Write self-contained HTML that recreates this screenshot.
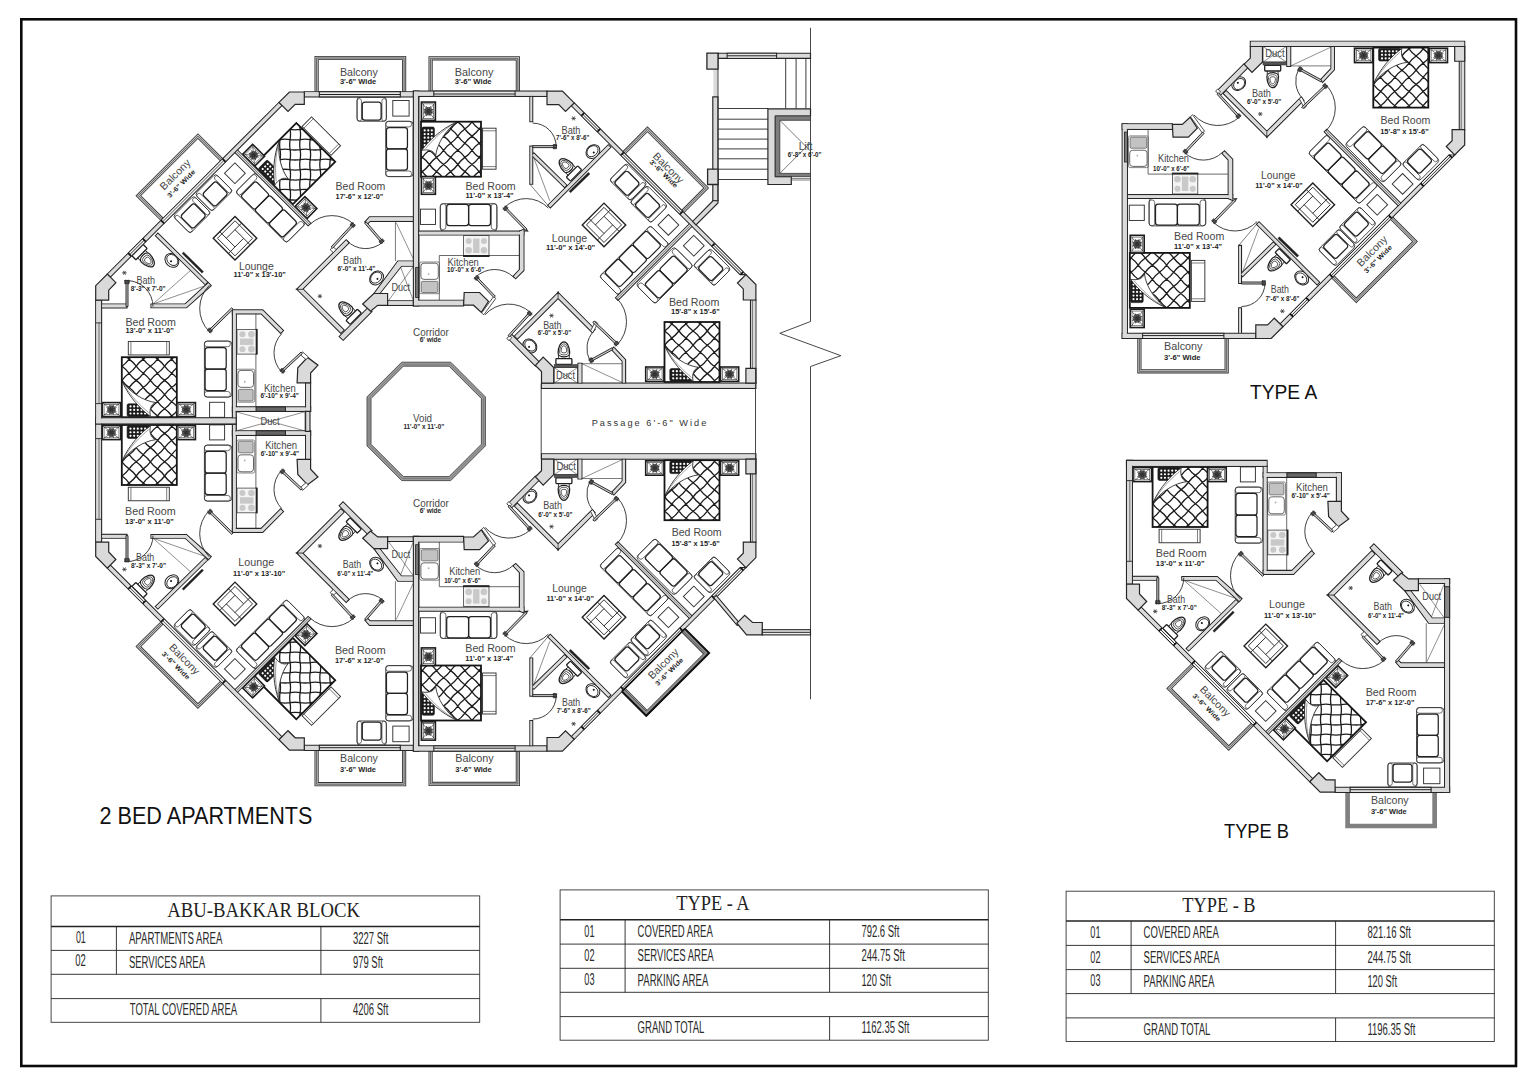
<!DOCTYPE html>
<html><head><meta charset="utf-8"><title>2 Bed Apartments</title>
<style>html,body{margin:0;padding:0;background:#fff}svg{display:block}</style>
</head><body>
<svg width="1536" height="1085" viewBox="0 0 1536 1085">
<rect width="1536" height="1085" fill="#fff"/>
<defs><clipPath id="bedclip"><rect x="0" y="0" width="55" height="60"/></clipPath><g id="bed"><g clip-path="url(#bedclip)"><rect x="0" y="0" width="55" height="60" fill="#fff" stroke="none" stroke-width="0" /><path d="M-14,8.4Q-9.86,5.44 -6.9,1.3M-6.9,1.3Q-3.94,-2.84 0.2,-5.8M0.2,-5.8Q4.34,-8.76 7.3,-12.9M-14,22.6Q-11.04,18.46 -6.9,15.5M-6.9,15.5Q-2.76,12.54 0.2,8.4M0.2,8.4Q3.16,4.26 7.3,1.3M7.3,1.3Q11.44,-1.66 14.4,-5.8M14.4,-5.8Q17.36,-9.94 21.5,-12.9M-14,36.8Q-9.86,33.84 -6.9,29.7M-6.9,29.7Q-3.94,25.56 0.2,22.6M0.2,22.6Q4.34,19.64 7.3,15.5M7.3,15.5Q10.26,11.36 14.4,8.4M14.4,8.4Q18.54,5.44 21.5,1.3M21.5,1.3Q24.46,-2.84 28.6,-5.8M28.6,-5.8Q32.74,-8.76 35.7,-12.9M-14,51Q-11.04,46.86 -6.9,43.9M-6.9,43.9Q-2.76,40.94 0.2,36.8M0.2,36.8Q3.16,32.66 7.3,29.7M7.3,29.7Q11.44,26.74 14.4,22.6M14.4,22.6Q17.36,18.46 21.5,15.5M21.5,15.5Q25.64,12.54 28.6,8.4M28.6,8.4Q31.56,4.26 35.7,1.3M35.7,1.3Q39.84,-1.66 42.8,-5.8M42.8,-5.8Q45.76,-9.94 49.9,-12.9M-14,65.2Q-9.86,62.24 -6.9,58.1M-6.9,58.1Q-3.94,53.96 0.2,51M0.2,51Q4.34,48.04 7.3,43.9M7.3,43.9Q10.26,39.76 14.4,36.8M14.4,36.8Q18.54,33.84 21.5,29.7M21.5,29.7Q24.46,25.56 28.6,22.6M28.6,22.6Q32.74,19.64 35.7,15.5M35.7,15.5Q38.66,11.36 42.8,8.4M42.8,8.4Q46.94,5.44 49.9,1.3M49.9,1.3Q52.86,-2.84 57,-5.8M57,-5.8Q61.14,-8.76 64.1,-12.9M-6.9,72.3Q-2.76,69.34 0.2,65.2M0.2,65.2Q3.16,61.06 7.3,58.1M7.3,58.1Q11.44,55.14 14.4,51M14.4,51Q17.36,46.86 21.5,43.9M21.5,43.9Q25.64,40.94 28.6,36.8M28.6,36.8Q31.56,32.66 35.7,29.7M35.7,29.7Q39.84,26.74 42.8,22.6M42.8,22.6Q45.76,18.46 49.9,15.5M49.9,15.5Q54.04,12.54 57,8.4M57,8.4Q59.96,4.26 64.1,1.3M7.3,72.3Q10.26,68.16 14.4,65.2M14.4,65.2Q18.54,62.24 21.5,58.1M21.5,58.1Q24.46,53.96 28.6,51M28.6,51Q32.74,48.04 35.7,43.9M35.7,43.9Q38.66,39.76 42.8,36.8M42.8,36.8Q46.94,33.84 49.9,29.7M49.9,29.7Q52.86,25.56 57,22.6M57,22.6Q61.14,19.64 64.1,15.5M21.5,72.3Q25.64,69.34 28.6,65.2M28.6,65.2Q31.56,61.06 35.7,58.1M35.7,58.1Q39.84,55.14 42.8,51M42.8,51Q45.76,46.86 49.9,43.9M49.9,43.9Q54.04,40.94 57,36.8M57,36.8Q59.96,32.66 64.1,29.7M35.7,72.3Q38.66,68.16 42.8,65.2M42.8,65.2Q46.94,62.24 49.9,58.1M49.9,58.1Q52.86,53.96 57,51M57,51Q61.14,48.04 64.1,43.9M49.9,72.3Q54.04,69.34 57,65.2M57,65.2Q59.96,61.06 64.1,58.1M-14,65.2Q-9.86,68.16 -6.9,72.3M-14,51Q-11.04,55.14 -6.9,58.1M-6.9,58.1Q-2.76,61.06 0.2,65.2M0.2,65.2Q3.16,69.34 7.3,72.3M-14,36.8Q-9.86,39.76 -6.9,43.9M-6.9,43.9Q-3.94,48.04 0.2,51M0.2,51Q4.34,53.96 7.3,58.1M7.3,58.1Q10.26,62.24 14.4,65.2M14.4,65.2Q18.54,68.16 21.5,72.3M-14,22.6Q-11.04,26.74 -6.9,29.7M-6.9,29.7Q-2.76,32.66 0.2,36.8M0.2,36.8Q3.16,40.94 7.3,43.9M7.3,43.9Q11.44,46.86 14.4,51M14.4,51Q17.36,55.14 21.5,58.1M21.5,58.1Q25.64,61.06 28.6,65.2M28.6,65.2Q31.56,69.34 35.7,72.3M-14,8.4Q-9.86,11.36 -6.9,15.5M-6.9,15.5Q-3.94,19.64 0.2,22.6M0.2,22.6Q4.34,25.56 7.3,29.7M7.3,29.7Q10.26,33.84 14.4,36.8M14.4,36.8Q18.54,39.76 21.5,43.9M21.5,43.9Q24.46,48.04 28.6,51M28.6,51Q32.74,53.96 35.7,58.1M35.7,58.1Q38.66,62.24 42.8,65.2M42.8,65.2Q46.94,68.16 49.9,72.3M-14,-5.8Q-11.04,-1.66 -6.9,1.3M-6.9,1.3Q-2.76,4.26 0.2,8.4M0.2,8.4Q3.16,12.54 7.3,15.5M7.3,15.5Q11.44,18.46 14.4,22.6M14.4,22.6Q17.36,26.74 21.5,29.7M21.5,29.7Q25.64,32.66 28.6,36.8M28.6,36.8Q31.56,40.94 35.7,43.9M35.7,43.9Q39.84,46.86 42.8,51M42.8,51Q45.76,55.14 49.9,58.1M49.9,58.1Q54.04,61.06 57,65.2M57,65.2Q59.96,69.34 64.1,72.3M-6.9,-12.9Q-3.94,-8.76 0.2,-5.8M0.2,-5.8Q4.34,-2.84 7.3,1.3M7.3,1.3Q10.26,5.44 14.4,8.4M14.4,8.4Q18.54,11.36 21.5,15.5M21.5,15.5Q24.46,19.64 28.6,22.6M28.6,22.6Q32.74,25.56 35.7,29.7M35.7,29.7Q38.66,33.84 42.8,36.8M42.8,36.8Q46.94,39.76 49.9,43.9M49.9,43.9Q52.86,48.04 57,51M57,51Q61.14,53.96 64.1,58.1M7.3,-12.9Q11.44,-9.94 14.4,-5.8M14.4,-5.8Q17.36,-1.66 21.5,1.3M21.5,1.3Q25.64,4.26 28.6,8.4M28.6,8.4Q31.56,12.54 35.7,15.5M35.7,15.5Q39.84,18.46 42.8,22.6M42.8,22.6Q45.76,26.74 49.9,29.7M49.9,29.7Q54.04,32.66 57,36.8M57,36.8Q59.96,40.94 64.1,43.9M21.5,-12.9Q24.46,-8.76 28.6,-5.8M28.6,-5.8Q32.74,-2.84 35.7,1.3M35.7,1.3Q38.66,5.44 42.8,8.4M42.8,8.4Q46.94,11.36 49.9,15.5M49.9,15.5Q52.86,19.64 57,22.6M57,22.6Q61.14,25.56 64.1,29.7M35.7,-12.9Q39.84,-9.94 42.8,-5.8M42.8,-5.8Q45.76,-1.66 49.9,1.3M49.9,1.3Q54.04,4.26 57,8.4M57,8.4Q59.96,12.54 64.1,15.5M49.9,-12.9Q52.86,-8.76 57,-5.8M57,-5.8Q61.14,-2.84 64.1,1.3" fill="none" stroke="#1c1c1c" stroke-width="1.3"/><path d="M0,0 L28.6,0 C27.5,7 28.5,12.5 33.9,14.7 C22,16 8,25 0,36 Z" fill="#fff" stroke="none"/><rect x="5.3" y="0.8" width="22.3" height="12.6" rx="1.6" fill="#1d1d1d" stroke="#111" stroke-width="0.6" /><circle cx="8.7" cy="3.7" r="1.1" fill="#fff"/><circle cx="8.7" cy="7.25" r="1.1" fill="#fff"/><circle cx="8.7" cy="10.8" r="1.1" fill="#fff"/><circle cx="12.35" cy="3.7" r="1.1" fill="#fff"/><circle cx="12.35" cy="7.25" r="1.1" fill="#fff"/><circle cx="12.35" cy="10.8" r="1.1" fill="#fff"/><circle cx="16" cy="3.7" r="1.1" fill="#fff"/><circle cx="16" cy="7.25" r="1.1" fill="#fff"/><circle cx="16" cy="10.8" r="1.1" fill="#fff"/><circle cx="19.65" cy="3.7" r="1.1" fill="#fff"/><circle cx="19.65" cy="7.25" r="1.1" fill="#fff"/><circle cx="19.65" cy="10.8" r="1.1" fill="#fff"/><circle cx="23.3" cy="3.7" r="1.1" fill="#fff"/><circle cx="23.3" cy="7.25" r="1.1" fill="#fff"/><circle cx="23.3" cy="10.8" r="1.1" fill="#fff"/><path d="M28.6,0.8 C27.5,7 28.5,12.5 33.9,14.7 C22,16 8,25 0.4,35.8 C7,20 20,7 28.6,0.8 Z" fill="#fff" stroke="#222" stroke-width="0.85"/><path d="M1.2,34.5 C8,22 18,12 27,4.5" fill="none" stroke="#444" stroke-width="0.5"/></g><rect x="0" y="0" width="55" height="60" fill="none" stroke="#151515" stroke-width="1.8" /></g><g id="tB"><polyline points="1347.4,792.5 1347.4,826.2 1434.9,826.2 1434.9,792.5" fill="none" stroke="#333" stroke-width="4.2" /><polyline points="1347.4,792.5 1347.4,826.2 1434.9,826.2 1434.9,792.5" fill="none" stroke="#c4c4c4" stroke-width="2.5" /><polyline points="1347.4,792.5 1347.4,826.2 1434.9,826.2 1434.9,792.5" fill="none" stroke="#4a4a4a" stroke-width="0.8" /><use href="#bed" transform="translate(1152.6 467) rotate(0)"/><g transform="translate(1142.3 474.6) rotate(0)"><rect x="-9.25" y="-7" width="18.5" height="14" fill="#fff" stroke="#1c1c1c" stroke-width="1.6" /><rect x="-7.45" y="-5.2" width="14.9" height="10.4" fill="none" stroke="#333" stroke-width="0.6" /><line x1="-9.25" y1="-7" x2="9.25" y2="7" stroke="#262626" stroke-width="0.6"/><line x1="-9.25" y1="7" x2="9.25" y2="-7" stroke="#262626" stroke-width="0.6"/><circle r="4.3" fill="#5a5a5a"/><circle r="2.2" fill="#333"/><line x1="0" y1="0" x2="4.99" y2="2.05" stroke="#333" stroke-width="0.8"/><line x1="0" y1="0" x2="2.08" y2="4.98" stroke="#333" stroke-width="0.8"/><line x1="0" y1="0" x2="-2.05" y2="4.99" stroke="#333" stroke-width="0.8"/><line x1="0" y1="0" x2="-4.98" y2="2.08" stroke="#333" stroke-width="0.8"/><line x1="0" y1="0" x2="-4.99" y2="-2.05" stroke="#333" stroke-width="0.8"/><line x1="0" y1="0" x2="-2.08" y2="-4.98" stroke="#333" stroke-width="0.8"/><line x1="0" y1="0" x2="2.05" y2="-4.99" stroke="#333" stroke-width="0.8"/><line x1="0" y1="0" x2="4.98" y2="-2.08" stroke="#333" stroke-width="0.8"/></g><g transform="translate(1217 474.6) rotate(0)"><rect x="-9.25" y="-7" width="18.5" height="14" fill="#fff" stroke="#1c1c1c" stroke-width="1.6" /><rect x="-7.45" y="-5.2" width="14.9" height="10.4" fill="none" stroke="#333" stroke-width="0.6" /><line x1="-9.25" y1="-7" x2="9.25" y2="7" stroke="#262626" stroke-width="0.6"/><line x1="-9.25" y1="7" x2="9.25" y2="-7" stroke="#262626" stroke-width="0.6"/><circle r="4.3" fill="#5a5a5a"/><circle r="2.2" fill="#333"/><line x1="0" y1="0" x2="4.99" y2="2.05" stroke="#333" stroke-width="0.8"/><line x1="0" y1="0" x2="2.08" y2="4.98" stroke="#333" stroke-width="0.8"/><line x1="0" y1="0" x2="-2.05" y2="4.99" stroke="#333" stroke-width="0.8"/><line x1="0" y1="0" x2="-4.98" y2="2.08" stroke="#333" stroke-width="0.8"/><line x1="0" y1="0" x2="-4.99" y2="-2.05" stroke="#333" stroke-width="0.8"/><line x1="0" y1="0" x2="-2.08" y2="-4.98" stroke="#333" stroke-width="0.8"/><line x1="0" y1="0" x2="2.05" y2="-4.99" stroke="#333" stroke-width="0.8"/><line x1="0" y1="0" x2="4.98" y2="-2.08" stroke="#333" stroke-width="0.8"/></g><g transform="translate(1179.6 536) rotate(0)"><rect x="-20.5" y="-6.75" width="41" height="13.5" fill="none" stroke="#333" stroke-width="0.95" /><line x1="-17.9" y1="-6.75" x2="-17.9" y2="6.75" stroke="#444" stroke-width="0.7"/><line x1="17.9" y1="-6.75" x2="17.9" y2="6.75" stroke="#444" stroke-width="0.7"/></g><g transform="translate(1247.9 474.4) rotate(0)"><rect x="-7.5" y="-7.5" width="15" height="15" fill="none" stroke="#333" stroke-width="0.95" /></g><g transform="translate(1248.9 515.1) rotate(90)"><rect x="-28" y="-13.7" width="56" height="27.4" rx="3" fill="none" stroke="#333" stroke-width="0.85" /><rect x="-28" y="-12.2" width="5.6" height="25.9" rx="2.5" fill="none" stroke="#333" stroke-width="0.7" /><rect x="22.4" y="-12.2" width="5.6" height="25.9" rx="2.5" fill="none" stroke="#333" stroke-width="0.7" /><rect x="-21.6" y="-8.1" width="21.6" height="21.1" rx="2.6" fill="none" stroke="#222" stroke-width="1.25" /><rect x="0" y="-8.1" width="21.6" height="21.1" rx="2.6" fill="none" stroke="#222" stroke-width="1.25" /></g><g transform="translate(1265.8 645.9) rotate(45)"><rect x="-15.4" y="-15.4" width="30.8" height="30.8" fill="none" stroke="#222" stroke-width="1.4" /><rect x="-12.4" y="-12.4" width="24.8" height="24.8" fill="none" stroke="#2a2a2a" stroke-width="0.9" /><line x1="-15.4" y1="-6.1" x2="6.1" y2="-6.1" stroke="#262626" stroke-width="0.9"/><line x1="6.1" y1="-15.4" x2="6.1" y2="6.1" stroke="#262626" stroke-width="0.9"/><line x1="-6.1" y1="6.1" x2="15.4" y2="6.1" stroke="#262626" stroke-width="0.9"/><line x1="-6.1" y1="-6.1" x2="-6.1" y2="15.4" stroke="#262626" stroke-width="0.9"/></g><g transform="translate(1222.7 669.6) rotate(225)"><rect x="-14.65" y="-12.05" width="29.3" height="24.1" rx="3" fill="none" stroke="#333" stroke-width="0.85" /><rect x="-14.65" y="-10.55" width="4.4" height="22.6" rx="2.2" fill="none" stroke="#333" stroke-width="0.7" /><rect x="10.25" y="-10.55" width="4.4" height="22.6" rx="2.2" fill="none" stroke="#333" stroke-width="0.7" /><rect x="-9.45" y="-7.05" width="18.9" height="17.9" rx="2.6" fill="none" stroke="#222" stroke-width="1.3" /></g><g transform="translate(1244.6 691.6) rotate(225)"><rect x="-14.65" y="-12.05" width="29.3" height="24.1" rx="3" fill="none" stroke="#333" stroke-width="0.85" /><rect x="-14.65" y="-10.55" width="4.4" height="22.6" rx="2.2" fill="none" stroke="#333" stroke-width="0.7" /><rect x="10.25" y="-10.55" width="4.4" height="22.6" rx="2.2" fill="none" stroke="#333" stroke-width="0.7" /><rect x="-9.45" y="-7.05" width="18.9" height="17.9" rx="2.6" fill="none" stroke="#222" stroke-width="1.3" /></g><g transform="translate(1265.7 711) rotate(45)"><rect x="-7.35" y="-7.35" width="14.7" height="14.7" fill="none" stroke="#333" stroke-width="0.95" /></g><g transform="translate(1301.5 676.5) rotate(135)"><rect x="-36" y="-13.8" width="72" height="27.6" rx="3" fill="none" stroke="#333" stroke-width="0.85" /><rect x="-36" y="-12.3" width="5.6" height="26.1" rx="2.5" fill="none" stroke="#333" stroke-width="0.7" /><rect x="30.4" y="-12.3" width="5.6" height="26.1" rx="2.5" fill="none" stroke="#333" stroke-width="0.7" /><rect x="-29.6" y="-8.2" width="19.73" height="21.3" rx="2.6" fill="none" stroke="#222" stroke-width="1.25" /><rect x="-9.87" y="-8.2" width="19.73" height="21.3" rx="2.6" fill="none" stroke="#222" stroke-width="1.25" /><rect x="9.87" y="-8.2" width="19.73" height="21.3" rx="2.6" fill="none" stroke="#222" stroke-width="1.25" /></g><use href="#bed" transform="translate(1284.7 718.8) rotate(-45)"/><g transform="translate(1336.75 676.65) rotate(-45)"><rect x="-8.5" y="-7" width="17" height="14" fill="#fff" stroke="#1c1c1c" stroke-width="1.6" /><rect x="-6.7" y="-5.2" width="13.4" height="10.4" fill="none" stroke="#333" stroke-width="0.6" /><line x1="-8.5" y1="-7" x2="8.5" y2="7" stroke="#262626" stroke-width="0.6"/><line x1="-8.5" y1="7" x2="8.5" y2="-7" stroke="#262626" stroke-width="0.6"/><circle r="4.3" fill="#5a5a5a"/><circle r="2.2" fill="#333"/><line x1="0" y1="0" x2="4.99" y2="2.05" stroke="#333" stroke-width="0.8"/><line x1="0" y1="0" x2="2.08" y2="4.98" stroke="#333" stroke-width="0.8"/><line x1="0" y1="0" x2="-2.05" y2="4.99" stroke="#333" stroke-width="0.8"/><line x1="0" y1="0" x2="-4.98" y2="2.08" stroke="#333" stroke-width="0.8"/><line x1="0" y1="0" x2="-4.99" y2="-2.05" stroke="#333" stroke-width="0.8"/><line x1="0" y1="0" x2="-2.08" y2="-4.98" stroke="#333" stroke-width="0.8"/><line x1="0" y1="0" x2="2.05" y2="-4.99" stroke="#333" stroke-width="0.8"/><line x1="0" y1="0" x2="4.98" y2="-2.08" stroke="#333" stroke-width="0.8"/></g><g transform="translate(1284.45 728.95) rotate(-45)"><rect x="-8.5" y="-7" width="17" height="14" fill="#fff" stroke="#1c1c1c" stroke-width="1.6" /><rect x="-6.7" y="-5.2" width="13.4" height="10.4" fill="none" stroke="#333" stroke-width="0.6" /><line x1="-8.5" y1="-7" x2="8.5" y2="7" stroke="#262626" stroke-width="0.6"/><line x1="-8.5" y1="7" x2="8.5" y2="-7" stroke="#262626" stroke-width="0.6"/><circle r="4.3" fill="#5a5a5a"/><circle r="2.2" fill="#333"/><line x1="0" y1="0" x2="4.99" y2="2.05" stroke="#333" stroke-width="0.8"/><line x1="0" y1="0" x2="2.08" y2="4.98" stroke="#333" stroke-width="0.8"/><line x1="0" y1="0" x2="-2.05" y2="4.99" stroke="#333" stroke-width="0.8"/><line x1="0" y1="0" x2="-4.98" y2="2.08" stroke="#333" stroke-width="0.8"/><line x1="0" y1="0" x2="-4.99" y2="-2.05" stroke="#333" stroke-width="0.8"/><line x1="0" y1="0" x2="-2.08" y2="-4.98" stroke="#333" stroke-width="0.8"/><line x1="0" y1="0" x2="2.05" y2="-4.99" stroke="#333" stroke-width="0.8"/><line x1="0" y1="0" x2="4.98" y2="-2.08" stroke="#333" stroke-width="0.8"/></g><g transform="translate(1352.1 748.1) rotate(-45)"><rect x="-20.5" y="-6.75" width="41" height="13.5" fill="none" stroke="#333" stroke-width="0.95" /><line x1="-17.9" y1="-6.75" x2="-17.9" y2="6.75" stroke="#444" stroke-width="0.7"/><line x1="17.9" y1="-6.75" x2="17.9" y2="6.75" stroke="#444" stroke-width="0.7"/></g><g transform="translate(1430.2 735.25) rotate(90)"><rect x="-27.65" y="-13.65" width="55.3" height="27.3" rx="3" fill="none" stroke="#333" stroke-width="0.85" /><rect x="-27.65" y="-12.15" width="5.6" height="25.8" rx="2.5" fill="none" stroke="#333" stroke-width="0.7" /><rect x="22.05" y="-12.15" width="5.6" height="25.8" rx="2.5" fill="none" stroke="#333" stroke-width="0.7" /><rect x="-21.25" y="-8.05" width="21.25" height="21" rx="2.6" fill="none" stroke="#222" stroke-width="1.25" /><rect x="0" y="-8.05" width="21.25" height="21" rx="2.6" fill="none" stroke="#222" stroke-width="1.25" /></g><g transform="translate(1402.5 775) rotate(180)"><rect x="-14.65" y="-12.05" width="29.3" height="24.1" rx="3" fill="none" stroke="#333" stroke-width="0.85" /><rect x="-14.65" y="-10.55" width="4.4" height="22.6" rx="2.2" fill="none" stroke="#333" stroke-width="0.7" /><rect x="10.25" y="-10.55" width="4.4" height="22.6" rx="2.2" fill="none" stroke="#333" stroke-width="0.7" /><rect x="-9.45" y="-7.05" width="18.9" height="17.9" rx="2.6" fill="none" stroke="#222" stroke-width="1.3" /></g><g transform="translate(1431.75 775.9) rotate(0)"><rect x="-8.15" y="-7.8" width="16.3" height="15.6" fill="none" stroke="#333" stroke-width="0.95" /></g><line x1="1286.7" y1="477.3" x2="1286.7" y2="570.4" stroke="#444" stroke-width="0.8"/><rect x="1267.6" y="482" width="17.9" height="33" rx="1.5" fill="none" stroke="#555" stroke-width="0.7" /><rect x="1269.2" y="483.2" width="14.7" height="11.63" rx="1.2" fill="#c2c2c2" stroke="#555" stroke-width="0.7" /><rect x="1268.8" y="496.83" width="15.5" height="16.97" rx="3" fill="#fff" stroke="#555" stroke-width="0.9" /><circle cx="1275.55" cy="502.43" r="0.9" fill="#aaa"/><rect x="1267.8" y="530.1" width="19.5" height="24.7" fill="#f4f4f4" stroke="#444" stroke-width="0.8" /><circle cx="1273.26" cy="535.04" r="3" fill="#c9c9c9"/><circle cx="1282.23" cy="535.04" r="3.3" fill="#c9c9c9"/><circle cx="1273.26" cy="549.86" r="3" fill="#c9c9c9"/><circle cx="1282.23" cy="549.86" r="3.3" fill="#c9c9c9"/><rect x="1270.8" y="539.25" width="13.5" height="6.4" fill="#c9c9c9" stroke="none" stroke-width="0" /><rect x="1286.5" y="529.6" width="2" height="25.7" fill="#222" stroke="none" stroke-width="0" /><g transform="translate(1168.3 634.1) rotate(225)"><rect x="-8" y="0" width="16" height="5.7" rx="0.8" fill="#fff" stroke="#1e1e1e" stroke-width="1.3" /><line x1="-5.2" y1="5.7" x2="-5.6" y2="9.5" stroke="#222" stroke-width="0.9"/><line x1="5.2" y1="5.7" x2="5.6" y2="9.5" stroke="#222" stroke-width="0.9"/><path d="M-5.8,11.2 A5.8,3.8 0 0 1 5.8,11.2 A5.8,11.2 0 0 1 -5.8,11.2 Z" fill="#fff" stroke="#1e1e1e" stroke-width="1.25"/><path d="M-4.29,12.2 A4.29,2.81 0 0 1 4.29,12.2 A4.29,8.29 0 0 1 -4.29,12.2 Z" fill="none" stroke="#333" stroke-width="0.8"/><path d="M-2.78,13.2 A2.78,1.82 0 0 1 2.78,13.2 A2.78,5.38 0 0 1 -2.78,13.2 Z" fill="none" stroke="#333" stroke-width="0.8"/></g><g transform="translate(1202.7 623.8) rotate(-45)"><ellipse cx="0" cy="0" rx="7.6" ry="6.2" fill="#fff" stroke="#222" stroke-width="1.0"/><ellipse cx="0" cy="0.6" rx="6.2" ry="4.8" fill="none" stroke="#222" stroke-width="0.9"/><circle cx="0" cy="-1.2" r="1" fill="#111"/></g><g transform="translate(1155.2 611.4) rotate(0)"><line x1="-2.2" y1="0" x2="2.2" y2="0" stroke="#333" stroke-width="0.5"/><line x1="-1.1" y1="-1.91" x2="1.1" y2="1.91" stroke="#333" stroke-width="0.5"/><line x1="1.1" y1="-1.91" x2="-1.1" y2="1.91" stroke="#333" stroke-width="0.5"/><line x1="2.2" y1="0" x2="-2.2" y2="0" stroke="#333" stroke-width="0.5"/><line x1="1.1" y1="1.91" x2="-1.1" y2="-1.91" stroke="#333" stroke-width="0.5"/><line x1="-1.1" y1="1.91" x2="1.1" y2="-1.91" stroke="#333" stroke-width="0.5"/></g><line x1="1183.8" y1="580.2" x2="1237.8" y2="599.1" stroke="#444" stroke-width="0.6"/><line x1="1183.8" y1="580.2" x2="1221.6" y2="614" stroke="#444" stroke-width="0.6"/><g transform="translate(1386.5 565.4) rotate(45)"><rect x="-8" y="0" width="16" height="5.7" rx="0.8" fill="#fff" stroke="#1e1e1e" stroke-width="1.3" /><line x1="-5.2" y1="5.7" x2="-5.6" y2="9.5" stroke="#222" stroke-width="0.9"/><line x1="5.2" y1="5.7" x2="5.6" y2="9.5" stroke="#222" stroke-width="0.9"/><path d="M-5.8,11.2 A5.8,3.8 0 0 1 5.8,11.2 A5.8,11.2 0 0 1 -5.8,11.2 Z" fill="#fff" stroke="#1e1e1e" stroke-width="1.25"/><path d="M-4.29,12.2 A4.29,2.81 0 0 1 4.29,12.2 A4.29,8.29 0 0 1 -4.29,12.2 Z" fill="none" stroke="#333" stroke-width="0.8"/><path d="M-2.78,13.2 A2.78,1.82 0 0 1 2.78,13.2 A2.78,5.38 0 0 1 -2.78,13.2 Z" fill="none" stroke="#333" stroke-width="0.8"/></g><g transform="translate(1407.4 606.2) rotate(45)"><ellipse cx="0" cy="0" rx="7.6" ry="6.2" fill="#fff" stroke="#222" stroke-width="1.0"/><ellipse cx="0" cy="0.6" rx="6.2" ry="4.8" fill="none" stroke="#222" stroke-width="0.9"/><circle cx="0" cy="-1.2" r="1" fill="#111"/></g><g transform="translate(1350.7 588) rotate(0)"><line x1="-2.2" y1="0" x2="2.2" y2="0" stroke="#333" stroke-width="0.5"/><line x1="-1.1" y1="-1.91" x2="1.1" y2="1.91" stroke="#333" stroke-width="0.5"/><line x1="1.1" y1="-1.91" x2="-1.1" y2="1.91" stroke="#333" stroke-width="0.5"/><line x1="2.2" y1="0" x2="-2.2" y2="0" stroke="#333" stroke-width="0.5"/><line x1="1.1" y1="1.91" x2="-1.1" y2="-1.91" stroke="#333" stroke-width="0.5"/><line x1="-1.1" y1="1.91" x2="1.1" y2="-1.91" stroke="#333" stroke-width="0.5"/></g><line x1="1419.7" y1="584.1" x2="1443.8" y2="617.3" stroke="#444" stroke-width="0.6"/><line x1="1443.8" y1="584.7" x2="1430.8" y2="618.6" stroke="#444" stroke-width="0.6"/><line x1="1426.25" y1="623.2" x2="1426.25" y2="662.9" stroke="#444" stroke-width="0.7"/><line x1="1444.2" y1="625.1" x2="1427" y2="661.5" stroke="#444" stroke-width="0.6"/><polyline points="1192.88,664.88 1169.2,688.57 1228.73,748.1 1252.42,724.42" fill="none" stroke="#333" stroke-width="4.2" /><polyline points="1192.88,664.88 1169.2,688.57 1228.73,748.1 1252.42,724.42" fill="none" stroke="#c4c4c4" stroke-width="2.5" /><polyline points="1192.88,664.88 1169.2,688.57 1228.73,748.1 1252.42,724.42" fill="none" stroke="#4a4a4a" stroke-width="0.8" /><polygon points="1138.1,610.1 1309.75,781.75 1312.75,778.75 1141.1,607.1" fill="#dadada" stroke="#262626" stroke-width="1.15" /><polygon points="1126.5,460.4 1267.1,460.4 1267.1,466.3 1126.5,466.3" fill="#dadada" stroke="#262626" stroke-width="1.15" /><polygon points="1126.5,460.4 1132.4,460.4 1132.4,584.1 1126.5,584.1" fill="#dadada" stroke="#262626" stroke-width="1.15" /><polygon points="1335.1,787.3 1449.6,787.3 1449.6,792.5 1335.1,792.5" fill="#dadada" stroke="#262626" stroke-width="1.15" /><polygon points="1444.6,578.9 1449.6,578.9 1449.6,792.2 1444.6,792.2" fill="#dadada" stroke="#262626" stroke-width="1.15" /><polygon points="1418.4,578.9 1449.6,578.9 1449.6,583.5 1418.4,583.5" fill="#dadada" stroke="#262626" stroke-width="1.15" /><polygon points="1373.9,543.9 1402.8,572.8 1398.9,576.7 1370,547.8" fill="#dadada" stroke="#262626" stroke-width="1.15" /><polygon points="1327.5,595 1371.7,550.8 1375,554.1 1334.1,595" fill="#dadada" stroke="#262626" stroke-width="1.15" /><polygon points="1327.5,595 1377,644.5 1380,641.5 1333.6,595.1" fill="#dadada" stroke="#262626" stroke-width="1.15" /><polygon points="1404.8,590.7 1410.7,590.7 1432.3,618 1444.5,618 1444.5,623.2 1428.6,623.2" fill="#dadada" stroke="#262626" stroke-width="1.15" /><polygon points="1395.6,662.2 1398.3,660.3 1401,662.9 1444.5,662.9 1444.5,667.4 1400.3,667.4" fill="#dadada" stroke="#262626" stroke-width="1.15" /><polygon points="1263.2,466.3 1267.1,466.3 1267.1,573.7 1263.2,573.7" fill="#dadada" stroke="#262626" stroke-width="1.15" /><polygon points="1263.2,472.8 1341.4,472.8 1341.4,477.3 1263.2,477.3" fill="#dadada" stroke="#262626" stroke-width="1.15" /><polygon points="1336.4,472.8 1341.4,472.8 1341.4,501.4 1336.4,501.4" fill="#dadada" stroke="#262626" stroke-width="1.15" /><polygon points="1263.2,570.4 1291.9,570.4 1311.5,550.8 1314.3,553.6 1293.5,574.3 1263.2,574.3" fill="#dadada" stroke="#262626" stroke-width="1.15" /><polygon points="1132.4,576.3 1157.8,576.3 1157.8,580.2 1132.4,580.2" fill="#dadada" stroke="#262626" stroke-width="1.15" /><polygon points="1181.8,576.5 1217.3,576.5 1242,598.6 1239.2,601.6 1215.9,580.2 1181.8,580.2" fill="#dadada" stroke="#262626" stroke-width="1.15" /><polygon points="1235.94,599.52 1186.14,648.52 1188.66,651.08 1238.46,602.08" fill="#dadada" stroke="#262626" stroke-width="1.1" /><polygon points="1339.03,658.43 1265.73,731.73 1268.27,734.27 1341.57,660.97" fill="#dadada" stroke="#262626" stroke-width="1.1" /><polygon points="1138.88,610.1 1309.75,780.97 1311.97,778.75 1141.1,607.88" fill="#dadada"/><polygon points="1127.05,460.95 1266.55,460.95 1266.55,465.75 1127.05,465.75" fill="#dadada"/><polygon points="1127.05,460.95 1131.85,460.95 1131.85,583.55 1127.05,583.55" fill="#dadada"/><polygon points="1335.65,787.85 1449.05,787.85 1449.05,791.95 1335.65,791.95" fill="#dadada"/><polygon points="1445.15,579.45 1449.05,579.45 1449.05,791.65 1445.15,791.65" fill="#dadada"/><polygon points="1418.95,579.45 1449.05,579.45 1449.05,582.95 1418.95,582.95" fill="#dadada"/><polygon points="1373.9,544.68 1402.02,572.8 1398.9,575.92 1370.78,547.8" fill="#dadada"/><polygon points="1328.83,594.45 1371.7,551.58 1374.22,554.1 1333.87,594.45" fill="#dadada"/><polygon points="1328.85,595.57 1377,643.72 1379.22,641.5 1333.37,595.65" fill="#dadada"/><polygon points="1405.88,591.25 1410.43,591.25 1432.03,618.55 1443.95,618.55 1443.95,622.65 1428.88,622.65" fill="#dadada"/><polygon points="1396.42,662.29 1398.25,661.01 1400.78,663.45 1443.95,663.45 1443.95,666.85 1400.54,666.85" fill="#dadada"/><polygon points="1263.75,466.85 1266.55,466.85 1266.55,573.15 1263.75,573.15" fill="#dadada"/><polygon points="1263.75,473.35 1340.85,473.35 1340.85,476.75 1263.75,476.75" fill="#dadada"/><polygon points="1336.95,473.35 1340.85,473.35 1340.85,500.85 1336.95,500.85" fill="#dadada"/><polygon points="1263.75,570.95 1292.13,570.95 1311.5,551.58 1313.52,553.6 1293.27,573.75 1263.75,573.75" fill="#dadada"/><polygon points="1132.95,576.85 1157.25,576.85 1157.25,579.65 1132.95,579.65" fill="#dadada"/><polygon points="1182.35,577.05 1217.09,577.05 1241.21,598.64 1239.17,600.83 1216.11,579.65 1182.35,579.65" fill="#dadada"/><polygon points="1235.93,600.29 1186.92,648.52 1188.67,650.31 1237.68,602.08" fill="#dadada"/><polygon points="1339.03,659.21 1266.51,731.73 1268.27,733.49 1340.79,660.97" fill="#dadada"/><polygon points="1191.9,663.9 1253.4,725.4 1256.4,722.4 1194.9,660.9" fill="#f2f2f2" stroke="#262626" stroke-width="0.9" /><line x1="1193.4" y1="662.4" x2="1254.9" y2="723.9" stroke="#333" stroke-width="0.8"/><polygon points="1159,631 1173.5,645.5 1176.5,642.5 1162,628" fill="#f2f2f2" stroke="#262626" stroke-width="1" /><line x1="1160.5" y1="629.5" x2="1175" y2="644" stroke="#222" stroke-width="0.9"/><line x1="1191.9" y1="663.9" x2="1194.9" y2="660.9" stroke="#111" stroke-width="1.7"/><line x1="1253.4" y1="725.4" x2="1256.4" y2="722.4" stroke="#111" stroke-width="1.7"/><line x1="1159" y1="631" x2="1162" y2="628" stroke="#111" stroke-width="1.7"/><line x1="1173.5" y1="645.5" x2="1176.5" y2="642.5" stroke="#111" stroke-width="1.7"/><polygon points="1126.5,584.1 1139.5,584.1 1139.5,594 1146.7,601.5 1138.1,610.1 1126.5,598.5" fill="#dadada" stroke="#262626" stroke-width="1.2" /><polygon points="1309.75,781.75 1318.8,772.7 1326,779.8 1335.1,779.8 1335.1,792.2 1320.2,792.2" fill="#dadada" stroke="#262626" stroke-width="1.2" /><line x1="1129.8" y1="480.6" x2="1129.8" y2="561.3" stroke="#444" stroke-width="0.7"/><line x1="1126.5" y1="480.6" x2="1132.4" y2="480.6" stroke="#222" stroke-width="0.9"/><line x1="1126.5" y1="561.3" x2="1132.4" y2="561.3" stroke="#222" stroke-width="0.9"/><rect x="1350.1" y="787.3" width="81" height="5.2" fill="#e8e8e8" stroke="#222" stroke-width="1.1" /><line x1="1350.1" y1="789.7" x2="1431.1" y2="789.7" stroke="#222" stroke-width="1"/><rect x="1444.6" y="586.7" width="5" height="30.6" fill="#8a8a8a" stroke="#222" stroke-width="1" /><polygon points="1393.5,580.2 1401.3,573 1408.5,578.9 1418.4,578.9 1418.4,590.7 1404.6,590.7" fill="#dadada" stroke="#262626" stroke-width="1.2" /><rect x="1286.9" y="472.8" width="29.3" height="4.5" fill="#666" stroke="#222" stroke-width="1" /><polygon points="1327.9,501.4 1341.4,501.4 1341.4,511.2 1348.8,519 1338.4,526.8 1328.6,516.4" fill="#dadada" stroke="#262626" stroke-width="1.2" /><polygon points="1331,529.6 1336.9,524.6 1339.2,527.2 1333.3,532.4" fill="#fff" stroke="#262626" stroke-width="0.8" /><polygon points="1232.83,611.02 1212.83,630.72 1214.37,632.28 1234.37,612.58" fill="#222" stroke="#262626" stroke-width="0.3" /><line x1="1340.3" y1="659.7" x2="1267" y2="733" stroke="#444" stroke-width="0.6"/><polygon points="1361,634.4 1364.2,631.6 1367,634.6 1363.8,637.6" fill="#fff" stroke="#262626" stroke-width="0.8" /><polygon points="1333.18,530.67 1312.92,511.78 1311.56,513.24 1331.82,532.13" fill="#c8c8c8" stroke="#1c1c1c" stroke-width="0.9" /><path d="M1312.24,512.51 A27.7,27.7 0 0 0 1312.57,550.64" fill="none" stroke="#2a2a2a" stroke-width="0.9"/><g transform="translate(1313.12 513.33) rotate(223)"><rect x="-1.6" y="-2.3" width="3" height="4.6" fill="#555" stroke="#222" stroke-width="0.5" /><line x1="-2.6" y1="-1.2" x2="2.2" y2="-1.2" stroke="#222" stroke-width="0.7"/><line x1="-2.6" y1="1.2" x2="2.2" y2="1.2" stroke="#222" stroke-width="0.7"/></g><polygon points="1156.8,577.6 1156.8,603.6 1158.8,603.6 1158.8,577.6" fill="#c8c8c8" stroke="#1c1c1c" stroke-width="0.9" /><path d="M1157.8,603.6 A26,26 0 0 0 1183.8,577.6" fill="none" stroke="#2a2a2a" stroke-width="0.9"/><g transform="translate(1157.8 602.4) rotate(90)"><rect x="-1.6" y="-2.3" width="3" height="4.6" fill="#555" stroke="#222" stroke-width="0.5" /><line x1="-2.6" y1="-1.2" x2="2.2" y2="-1.2" stroke="#222" stroke-width="0.7"/><line x1="-2.6" y1="1.2" x2="2.2" y2="1.2" stroke="#222" stroke-width="0.7"/></g><polygon points="1263.9,574.98 1240.5,552.15 1239.1,553.58 1262.5,576.42" fill="#c8c8c8" stroke="#1c1c1c" stroke-width="0.9" /><path d="M1239.8,552.86 A32.7,32.7 0 0 0 1240.08,598.82" fill="none" stroke="#2a2a2a" stroke-width="0.9"/><g transform="translate(1240.66 553.7) rotate(224.3)"><rect x="-1.6" y="-2.3" width="3" height="4.6" fill="#555" stroke="#222" stroke-width="0.5" /><line x1="-2.6" y1="-1.2" x2="2.2" y2="-1.2" stroke="#222" stroke-width="0.7"/><line x1="-2.6" y1="1.2" x2="2.2" y2="1.2" stroke="#222" stroke-width="0.7"/></g><polygon points="1361.97,637.28 1383.67,660.8 1385.14,659.44 1363.43,635.92" fill="#c8c8c8" stroke="#1c1c1c" stroke-width="0.9" /><path d="M1384.4,660.12 A32,32 0 0 1 1340.71,659.85" fill="none" stroke="#2a2a2a" stroke-width="0.9"/><g transform="translate(1383.59 659.24) rotate(47.3)"><rect x="-1.6" y="-2.3" width="3" height="4.6" fill="#555" stroke="#222" stroke-width="0.5" /><line x1="-2.6" y1="-1.2" x2="2.2" y2="-1.2" stroke="#222" stroke-width="0.7"/><line x1="-2.6" y1="1.2" x2="2.2" y2="1.2" stroke="#222" stroke-width="0.7"/></g><polygon points="1397.06,662.25 1414.05,642.57 1412.53,641.26 1395.54,660.95" fill="#c8c8c8" stroke="#1c1c1c" stroke-width="0.9" /><path d="M1413.29,641.92 A26,26 0 0 0 1377.6,643.54" fill="none" stroke="#2a2a2a" stroke-width="0.9"/><g transform="translate(1412.5 642.83) rotate(-49.2)"><rect x="-1.6" y="-2.3" width="3" height="4.6" fill="#555" stroke="#222" stroke-width="0.5" /><line x1="-2.6" y1="-1.2" x2="2.2" y2="-1.2" stroke="#222" stroke-width="0.7"/><line x1="-2.6" y1="1.2" x2="2.2" y2="1.2" stroke="#222" stroke-width="0.7"/></g></g><g id="tBs"><polyline points="1347.6,792.5 1347.6,826 1434.65,826 1434.65,792.5" fill="none" stroke="#808080" stroke-width="4.7" /><use href="#bed" transform="translate(1152.6 467) rotate(0)"/><g transform="translate(1142.3 474.6) rotate(0)"><rect x="-9.25" y="-7" width="18.5" height="14" fill="#fff" stroke="#1c1c1c" stroke-width="1.6" /><rect x="-7.45" y="-5.2" width="14.9" height="10.4" fill="none" stroke="#333" stroke-width="0.6" /><line x1="-9.25" y1="-7" x2="9.25" y2="7" stroke="#262626" stroke-width="0.6"/><line x1="-9.25" y1="7" x2="9.25" y2="-7" stroke="#262626" stroke-width="0.6"/><circle r="4.3" fill="#5a5a5a"/><circle r="2.2" fill="#333"/><line x1="0" y1="0" x2="4.99" y2="2.05" stroke="#333" stroke-width="0.8"/><line x1="0" y1="0" x2="2.08" y2="4.98" stroke="#333" stroke-width="0.8"/><line x1="0" y1="0" x2="-2.05" y2="4.99" stroke="#333" stroke-width="0.8"/><line x1="0" y1="0" x2="-4.98" y2="2.08" stroke="#333" stroke-width="0.8"/><line x1="0" y1="0" x2="-4.99" y2="-2.05" stroke="#333" stroke-width="0.8"/><line x1="0" y1="0" x2="-2.08" y2="-4.98" stroke="#333" stroke-width="0.8"/><line x1="0" y1="0" x2="2.05" y2="-4.99" stroke="#333" stroke-width="0.8"/><line x1="0" y1="0" x2="4.98" y2="-2.08" stroke="#333" stroke-width="0.8"/></g><g transform="translate(1217 474.6) rotate(0)"><rect x="-9.25" y="-7" width="18.5" height="14" fill="#fff" stroke="#1c1c1c" stroke-width="1.6" /><rect x="-7.45" y="-5.2" width="14.9" height="10.4" fill="none" stroke="#333" stroke-width="0.6" /><line x1="-9.25" y1="-7" x2="9.25" y2="7" stroke="#262626" stroke-width="0.6"/><line x1="-9.25" y1="7" x2="9.25" y2="-7" stroke="#262626" stroke-width="0.6"/><circle r="4.3" fill="#5a5a5a"/><circle r="2.2" fill="#333"/><line x1="0" y1="0" x2="4.99" y2="2.05" stroke="#333" stroke-width="0.8"/><line x1="0" y1="0" x2="2.08" y2="4.98" stroke="#333" stroke-width="0.8"/><line x1="0" y1="0" x2="-2.05" y2="4.99" stroke="#333" stroke-width="0.8"/><line x1="0" y1="0" x2="-4.98" y2="2.08" stroke="#333" stroke-width="0.8"/><line x1="0" y1="0" x2="-4.99" y2="-2.05" stroke="#333" stroke-width="0.8"/><line x1="0" y1="0" x2="-2.08" y2="-4.98" stroke="#333" stroke-width="0.8"/><line x1="0" y1="0" x2="2.05" y2="-4.99" stroke="#333" stroke-width="0.8"/><line x1="0" y1="0" x2="4.98" y2="-2.08" stroke="#333" stroke-width="0.8"/></g><g transform="translate(1179.6 536) rotate(0)"><rect x="-20.5" y="-6.75" width="41" height="13.5" fill="none" stroke="#333" stroke-width="0.95" /><line x1="-17.9" y1="-6.75" x2="-17.9" y2="6.75" stroke="#444" stroke-width="0.7"/><line x1="17.9" y1="-6.75" x2="17.9" y2="6.75" stroke="#444" stroke-width="0.7"/></g><g transform="translate(1247.9 474.4) rotate(0)"><rect x="-7.5" y="-7.5" width="15" height="15" fill="none" stroke="#333" stroke-width="0.95" /></g><g transform="translate(1248.9 515.1) rotate(90)"><rect x="-28" y="-13.7" width="56" height="27.4" rx="3" fill="none" stroke="#333" stroke-width="0.85" /><rect x="-28" y="-12.2" width="5.6" height="25.9" rx="2.5" fill="none" stroke="#333" stroke-width="0.7" /><rect x="22.4" y="-12.2" width="5.6" height="25.9" rx="2.5" fill="none" stroke="#333" stroke-width="0.7" /><rect x="-21.6" y="-8.1" width="21.6" height="21.1" rx="2.6" fill="none" stroke="#222" stroke-width="1.25" /><rect x="0" y="-8.1" width="21.6" height="21.1" rx="2.6" fill="none" stroke="#222" stroke-width="1.25" /></g><g transform="translate(1265.8 645.9) rotate(45)"><rect x="-15.4" y="-15.4" width="30.8" height="30.8" fill="none" stroke="#222" stroke-width="1.4" /><rect x="-12.4" y="-12.4" width="24.8" height="24.8" fill="none" stroke="#2a2a2a" stroke-width="0.9" /><line x1="-15.4" y1="-6.1" x2="6.1" y2="-6.1" stroke="#262626" stroke-width="0.9"/><line x1="6.1" y1="-15.4" x2="6.1" y2="6.1" stroke="#262626" stroke-width="0.9"/><line x1="-6.1" y1="6.1" x2="15.4" y2="6.1" stroke="#262626" stroke-width="0.9"/><line x1="-6.1" y1="-6.1" x2="-6.1" y2="15.4" stroke="#262626" stroke-width="0.9"/></g><g transform="translate(1222.7 669.6) rotate(225)"><rect x="-14.65" y="-12.05" width="29.3" height="24.1" rx="3" fill="none" stroke="#333" stroke-width="0.85" /><rect x="-14.65" y="-10.55" width="4.4" height="22.6" rx="2.2" fill="none" stroke="#333" stroke-width="0.7" /><rect x="10.25" y="-10.55" width="4.4" height="22.6" rx="2.2" fill="none" stroke="#333" stroke-width="0.7" /><rect x="-9.45" y="-7.05" width="18.9" height="17.9" rx="2.6" fill="none" stroke="#222" stroke-width="1.3" /></g><g transform="translate(1244.6 691.6) rotate(225)"><rect x="-14.65" y="-12.05" width="29.3" height="24.1" rx="3" fill="none" stroke="#333" stroke-width="0.85" /><rect x="-14.65" y="-10.55" width="4.4" height="22.6" rx="2.2" fill="none" stroke="#333" stroke-width="0.7" /><rect x="10.25" y="-10.55" width="4.4" height="22.6" rx="2.2" fill="none" stroke="#333" stroke-width="0.7" /><rect x="-9.45" y="-7.05" width="18.9" height="17.9" rx="2.6" fill="none" stroke="#222" stroke-width="1.3" /></g><g transform="translate(1265.7 711) rotate(45)"><rect x="-7.35" y="-7.35" width="14.7" height="14.7" fill="none" stroke="#333" stroke-width="0.95" /></g><g transform="translate(1301.5 676.5) rotate(135)"><rect x="-36" y="-13.8" width="72" height="27.6" rx="3" fill="none" stroke="#333" stroke-width="0.85" /><rect x="-36" y="-12.3" width="5.6" height="26.1" rx="2.5" fill="none" stroke="#333" stroke-width="0.7" /><rect x="30.4" y="-12.3" width="5.6" height="26.1" rx="2.5" fill="none" stroke="#333" stroke-width="0.7" /><rect x="-29.6" y="-8.2" width="19.73" height="21.3" rx="2.6" fill="none" stroke="#222" stroke-width="1.25" /><rect x="-9.87" y="-8.2" width="19.73" height="21.3" rx="2.6" fill="none" stroke="#222" stroke-width="1.25" /><rect x="9.87" y="-8.2" width="19.73" height="21.3" rx="2.6" fill="none" stroke="#222" stroke-width="1.25" /></g><use href="#bed" transform="translate(1284.7 718.8) rotate(-45)"/><g transform="translate(1336.75 676.65) rotate(-45)"><rect x="-8.5" y="-7" width="17" height="14" fill="#fff" stroke="#1c1c1c" stroke-width="1.6" /><rect x="-6.7" y="-5.2" width="13.4" height="10.4" fill="none" stroke="#333" stroke-width="0.6" /><line x1="-8.5" y1="-7" x2="8.5" y2="7" stroke="#262626" stroke-width="0.6"/><line x1="-8.5" y1="7" x2="8.5" y2="-7" stroke="#262626" stroke-width="0.6"/><circle r="4.3" fill="#5a5a5a"/><circle r="2.2" fill="#333"/><line x1="0" y1="0" x2="4.99" y2="2.05" stroke="#333" stroke-width="0.8"/><line x1="0" y1="0" x2="2.08" y2="4.98" stroke="#333" stroke-width="0.8"/><line x1="0" y1="0" x2="-2.05" y2="4.99" stroke="#333" stroke-width="0.8"/><line x1="0" y1="0" x2="-4.98" y2="2.08" stroke="#333" stroke-width="0.8"/><line x1="0" y1="0" x2="-4.99" y2="-2.05" stroke="#333" stroke-width="0.8"/><line x1="0" y1="0" x2="-2.08" y2="-4.98" stroke="#333" stroke-width="0.8"/><line x1="0" y1="0" x2="2.05" y2="-4.99" stroke="#333" stroke-width="0.8"/><line x1="0" y1="0" x2="4.98" y2="-2.08" stroke="#333" stroke-width="0.8"/></g><g transform="translate(1284.45 728.95) rotate(-45)"><rect x="-8.5" y="-7" width="17" height="14" fill="#fff" stroke="#1c1c1c" stroke-width="1.6" /><rect x="-6.7" y="-5.2" width="13.4" height="10.4" fill="none" stroke="#333" stroke-width="0.6" /><line x1="-8.5" y1="-7" x2="8.5" y2="7" stroke="#262626" stroke-width="0.6"/><line x1="-8.5" y1="7" x2="8.5" y2="-7" stroke="#262626" stroke-width="0.6"/><circle r="4.3" fill="#5a5a5a"/><circle r="2.2" fill="#333"/><line x1="0" y1="0" x2="4.99" y2="2.05" stroke="#333" stroke-width="0.8"/><line x1="0" y1="0" x2="2.08" y2="4.98" stroke="#333" stroke-width="0.8"/><line x1="0" y1="0" x2="-2.05" y2="4.99" stroke="#333" stroke-width="0.8"/><line x1="0" y1="0" x2="-4.98" y2="2.08" stroke="#333" stroke-width="0.8"/><line x1="0" y1="0" x2="-4.99" y2="-2.05" stroke="#333" stroke-width="0.8"/><line x1="0" y1="0" x2="-2.08" y2="-4.98" stroke="#333" stroke-width="0.8"/><line x1="0" y1="0" x2="2.05" y2="-4.99" stroke="#333" stroke-width="0.8"/><line x1="0" y1="0" x2="4.98" y2="-2.08" stroke="#333" stroke-width="0.8"/></g><g transform="translate(1352.1 748.1) rotate(-45)"><rect x="-20.5" y="-6.75" width="41" height="13.5" fill="none" stroke="#333" stroke-width="0.95" /><line x1="-17.9" y1="-6.75" x2="-17.9" y2="6.75" stroke="#444" stroke-width="0.7"/><line x1="17.9" y1="-6.75" x2="17.9" y2="6.75" stroke="#444" stroke-width="0.7"/></g><g transform="translate(1430.2 735.25) rotate(90)"><rect x="-27.65" y="-13.65" width="55.3" height="27.3" rx="3" fill="none" stroke="#333" stroke-width="0.85" /><rect x="-27.65" y="-12.15" width="5.6" height="25.8" rx="2.5" fill="none" stroke="#333" stroke-width="0.7" /><rect x="22.05" y="-12.15" width="5.6" height="25.8" rx="2.5" fill="none" stroke="#333" stroke-width="0.7" /><rect x="-21.25" y="-8.05" width="21.25" height="21" rx="2.6" fill="none" stroke="#222" stroke-width="1.25" /><rect x="0" y="-8.05" width="21.25" height="21" rx="2.6" fill="none" stroke="#222" stroke-width="1.25" /></g><g transform="translate(1402.5 775) rotate(180)"><rect x="-14.65" y="-12.05" width="29.3" height="24.1" rx="3" fill="none" stroke="#333" stroke-width="0.85" /><rect x="-14.65" y="-10.55" width="4.4" height="22.6" rx="2.2" fill="none" stroke="#333" stroke-width="0.7" /><rect x="10.25" y="-10.55" width="4.4" height="22.6" rx="2.2" fill="none" stroke="#333" stroke-width="0.7" /><rect x="-9.45" y="-7.05" width="18.9" height="17.9" rx="2.6" fill="none" stroke="#222" stroke-width="1.3" /></g><g transform="translate(1431.75 775.9) rotate(0)"><rect x="-8.15" y="-7.8" width="16.3" height="15.6" fill="none" stroke="#333" stroke-width="0.95" /></g><line x1="1286.7" y1="477.3" x2="1286.7" y2="570.4" stroke="#444" stroke-width="0.8"/><rect x="1267.6" y="482" width="17.9" height="33" rx="1.5" fill="none" stroke="#555" stroke-width="0.7" /><rect x="1269.2" y="483.2" width="14.7" height="11.63" rx="1.2" fill="#c2c2c2" stroke="#555" stroke-width="0.7" /><rect x="1268.8" y="496.83" width="15.5" height="16.97" rx="3" fill="#fff" stroke="#555" stroke-width="0.9" /><circle cx="1275.55" cy="502.43" r="0.9" fill="#aaa"/><rect x="1267.8" y="530.1" width="19.5" height="24.7" fill="#f4f4f4" stroke="#444" stroke-width="0.8" /><circle cx="1273.26" cy="535.04" r="3" fill="#c9c9c9"/><circle cx="1282.23" cy="535.04" r="3.3" fill="#c9c9c9"/><circle cx="1273.26" cy="549.86" r="3" fill="#c9c9c9"/><circle cx="1282.23" cy="549.86" r="3.3" fill="#c9c9c9"/><rect x="1270.8" y="539.25" width="13.5" height="6.4" fill="#c9c9c9" stroke="none" stroke-width="0" /><rect x="1286.5" y="529.6" width="2" height="25.7" fill="#222" stroke="none" stroke-width="0" /><g transform="translate(1168.3 634.1) rotate(225)"><rect x="-8" y="0" width="16" height="5.7" rx="0.8" fill="#fff" stroke="#1e1e1e" stroke-width="1.3" /><line x1="-5.2" y1="5.7" x2="-5.6" y2="9.5" stroke="#222" stroke-width="0.9"/><line x1="5.2" y1="5.7" x2="5.6" y2="9.5" stroke="#222" stroke-width="0.9"/><path d="M-5.8,11.2 A5.8,3.8 0 0 1 5.8,11.2 A5.8,11.2 0 0 1 -5.8,11.2 Z" fill="#fff" stroke="#1e1e1e" stroke-width="1.25"/><path d="M-4.29,12.2 A4.29,2.81 0 0 1 4.29,12.2 A4.29,8.29 0 0 1 -4.29,12.2 Z" fill="none" stroke="#333" stroke-width="0.8"/><path d="M-2.78,13.2 A2.78,1.82 0 0 1 2.78,13.2 A2.78,5.38 0 0 1 -2.78,13.2 Z" fill="none" stroke="#333" stroke-width="0.8"/></g><g transform="translate(1202.7 623.8) rotate(-45)"><ellipse cx="0" cy="0" rx="7.6" ry="6.2" fill="#fff" stroke="#222" stroke-width="1.0"/><ellipse cx="0" cy="0.6" rx="6.2" ry="4.8" fill="none" stroke="#222" stroke-width="0.9"/><circle cx="0" cy="-1.2" r="1" fill="#111"/></g><g transform="translate(1155.2 611.4) rotate(0)"><line x1="-2.2" y1="0" x2="2.2" y2="0" stroke="#333" stroke-width="0.5"/><line x1="-1.1" y1="-1.91" x2="1.1" y2="1.91" stroke="#333" stroke-width="0.5"/><line x1="1.1" y1="-1.91" x2="-1.1" y2="1.91" stroke="#333" stroke-width="0.5"/><line x1="2.2" y1="0" x2="-2.2" y2="0" stroke="#333" stroke-width="0.5"/><line x1="1.1" y1="1.91" x2="-1.1" y2="-1.91" stroke="#333" stroke-width="0.5"/><line x1="-1.1" y1="1.91" x2="1.1" y2="-1.91" stroke="#333" stroke-width="0.5"/></g><line x1="1183.8" y1="580.2" x2="1237.8" y2="599.1" stroke="#444" stroke-width="0.6"/><line x1="1183.8" y1="580.2" x2="1221.6" y2="614" stroke="#444" stroke-width="0.6"/><g transform="translate(1386.5 565.4) rotate(45)"><rect x="-8" y="0" width="16" height="5.7" rx="0.8" fill="#fff" stroke="#1e1e1e" stroke-width="1.3" /><line x1="-5.2" y1="5.7" x2="-5.6" y2="9.5" stroke="#222" stroke-width="0.9"/><line x1="5.2" y1="5.7" x2="5.6" y2="9.5" stroke="#222" stroke-width="0.9"/><path d="M-5.8,11.2 A5.8,3.8 0 0 1 5.8,11.2 A5.8,11.2 0 0 1 -5.8,11.2 Z" fill="#fff" stroke="#1e1e1e" stroke-width="1.25"/><path d="M-4.29,12.2 A4.29,2.81 0 0 1 4.29,12.2 A4.29,8.29 0 0 1 -4.29,12.2 Z" fill="none" stroke="#333" stroke-width="0.8"/><path d="M-2.78,13.2 A2.78,1.82 0 0 1 2.78,13.2 A2.78,5.38 0 0 1 -2.78,13.2 Z" fill="none" stroke="#333" stroke-width="0.8"/></g><g transform="translate(1407.4 606.2) rotate(45)"><ellipse cx="0" cy="0" rx="7.6" ry="6.2" fill="#fff" stroke="#222" stroke-width="1.0"/><ellipse cx="0" cy="0.6" rx="6.2" ry="4.8" fill="none" stroke="#222" stroke-width="0.9"/><circle cx="0" cy="-1.2" r="1" fill="#111"/></g><g transform="translate(1350.7 588) rotate(0)"><line x1="-2.2" y1="0" x2="2.2" y2="0" stroke="#333" stroke-width="0.5"/><line x1="-1.1" y1="-1.91" x2="1.1" y2="1.91" stroke="#333" stroke-width="0.5"/><line x1="1.1" y1="-1.91" x2="-1.1" y2="1.91" stroke="#333" stroke-width="0.5"/><line x1="2.2" y1="0" x2="-2.2" y2="0" stroke="#333" stroke-width="0.5"/><line x1="1.1" y1="1.91" x2="-1.1" y2="-1.91" stroke="#333" stroke-width="0.5"/><line x1="-1.1" y1="1.91" x2="1.1" y2="-1.91" stroke="#333" stroke-width="0.5"/></g><line x1="1419.7" y1="584.1" x2="1443.8" y2="617.3" stroke="#444" stroke-width="0.6"/><line x1="1443.8" y1="584.7" x2="1430.8" y2="618.6" stroke="#444" stroke-width="0.6"/><line x1="1426.25" y1="623.2" x2="1426.25" y2="662.9" stroke="#444" stroke-width="0.7"/><line x1="1444.2" y1="625.1" x2="1427" y2="661.5" stroke="#444" stroke-width="0.6"/><polyline points="1192.88,664.88 1169.2,688.57 1228.73,748.1 1252.42,724.42" fill="none" stroke="#333" stroke-width="4.2" /><polyline points="1192.88,664.88 1169.2,688.57 1228.73,748.1 1252.42,724.42" fill="none" stroke="#c4c4c4" stroke-width="2.5" /><polyline points="1192.88,664.88 1169.2,688.57 1228.73,748.1 1252.42,724.42" fill="none" stroke="#4a4a4a" stroke-width="0.8" /><polygon points="1138.1,610.1 1309.75,781.75 1312.75,778.75 1141.1,607.1" fill="#dadada" stroke="#262626" stroke-width="1.15" /><polygon points="1126.5,460.4 1267.1,460.4 1267.1,466.3 1126.5,466.3" fill="#dadada" stroke="#262626" stroke-width="1.15" /><polygon points="1126.5,460.4 1132.4,460.4 1132.4,584.1 1126.5,584.1" fill="#dadada" stroke="#262626" stroke-width="1.15" /><polygon points="1335.1,787.3 1449.6,787.3 1449.6,792.5 1335.1,792.5" fill="#dadada" stroke="#262626" stroke-width="1.15" /><polygon points="1444.6,578.9 1449.6,578.9 1449.6,792.2 1444.6,792.2" fill="#dadada" stroke="#262626" stroke-width="1.15" /><polygon points="1418.4,578.9 1449.6,578.9 1449.6,583.5 1418.4,583.5" fill="#dadada" stroke="#262626" stroke-width="1.15" /><polygon points="1373.9,543.9 1402.8,572.8 1398.9,576.7 1370,547.8" fill="#dadada" stroke="#262626" stroke-width="1.15" /><polygon points="1327.5,595 1371.7,550.8 1375,554.1 1334.1,595" fill="#dadada" stroke="#262626" stroke-width="1.15" /><polygon points="1327.5,595 1377,644.5 1380,641.5 1333.6,595.1" fill="#dadada" stroke="#262626" stroke-width="1.15" /><polygon points="1404.8,590.7 1410.7,590.7 1432.3,618 1444.5,618 1444.5,623.2 1428.6,623.2" fill="#dadada" stroke="#262626" stroke-width="1.15" /><polygon points="1395.6,662.2 1398.3,660.3 1401,662.9 1444.5,662.9 1444.5,667.4 1400.3,667.4" fill="#dadada" stroke="#262626" stroke-width="1.15" /><polygon points="1263.2,466.3 1267.1,466.3 1267.1,573.7 1263.2,573.7" fill="#dadada" stroke="#262626" stroke-width="1.15" /><polygon points="1263.2,472.8 1341.4,472.8 1341.4,477.3 1263.2,477.3" fill="#dadada" stroke="#262626" stroke-width="1.15" /><polygon points="1336.4,472.8 1341.4,472.8 1341.4,501.4 1336.4,501.4" fill="#dadada" stroke="#262626" stroke-width="1.15" /><polygon points="1263.2,570.4 1291.9,570.4 1311.5,550.8 1314.3,553.6 1293.5,574.3 1263.2,574.3" fill="#dadada" stroke="#262626" stroke-width="1.15" /><polygon points="1132.4,576.3 1157.8,576.3 1157.8,580.2 1132.4,580.2" fill="#dadada" stroke="#262626" stroke-width="1.15" /><polygon points="1181.8,576.5 1217.3,576.5 1242,598.6 1239.2,601.6 1215.9,580.2 1181.8,580.2" fill="#dadada" stroke="#262626" stroke-width="1.15" /><polygon points="1235.94,599.52 1186.14,648.52 1188.66,651.08 1238.46,602.08" fill="#dadada" stroke="#262626" stroke-width="1.1" /><polygon points="1339.03,658.43 1265.73,731.73 1268.27,734.27 1341.57,660.97" fill="#dadada" stroke="#262626" stroke-width="1.1" /><polygon points="1138.88,610.1 1309.75,780.97 1311.97,778.75 1141.1,607.88" fill="#dadada"/><polygon points="1127.05,460.95 1266.55,460.95 1266.55,465.75 1127.05,465.75" fill="#dadada"/><polygon points="1127.05,460.95 1131.85,460.95 1131.85,583.55 1127.05,583.55" fill="#dadada"/><polygon points="1335.65,787.85 1449.05,787.85 1449.05,791.95 1335.65,791.95" fill="#dadada"/><polygon points="1445.15,579.45 1449.05,579.45 1449.05,791.65 1445.15,791.65" fill="#dadada"/><polygon points="1418.95,579.45 1449.05,579.45 1449.05,582.95 1418.95,582.95" fill="#dadada"/><polygon points="1373.9,544.68 1402.02,572.8 1398.9,575.92 1370.78,547.8" fill="#dadada"/><polygon points="1328.83,594.45 1371.7,551.58 1374.22,554.1 1333.87,594.45" fill="#dadada"/><polygon points="1328.85,595.57 1377,643.72 1379.22,641.5 1333.37,595.65" fill="#dadada"/><polygon points="1405.88,591.25 1410.43,591.25 1432.03,618.55 1443.95,618.55 1443.95,622.65 1428.88,622.65" fill="#dadada"/><polygon points="1396.42,662.29 1398.25,661.01 1400.78,663.45 1443.95,663.45 1443.95,666.85 1400.54,666.85" fill="#dadada"/><polygon points="1263.75,466.85 1266.55,466.85 1266.55,573.15 1263.75,573.15" fill="#dadada"/><polygon points="1263.75,473.35 1340.85,473.35 1340.85,476.75 1263.75,476.75" fill="#dadada"/><polygon points="1336.95,473.35 1340.85,473.35 1340.85,500.85 1336.95,500.85" fill="#dadada"/><polygon points="1263.75,570.95 1292.13,570.95 1311.5,551.58 1313.52,553.6 1293.27,573.75 1263.75,573.75" fill="#dadada"/><polygon points="1132.95,576.85 1157.25,576.85 1157.25,579.65 1132.95,579.65" fill="#dadada"/><polygon points="1182.35,577.05 1217.09,577.05 1241.21,598.64 1239.17,600.83 1216.11,579.65 1182.35,579.65" fill="#dadada"/><polygon points="1235.93,600.29 1186.92,648.52 1188.67,650.31 1237.68,602.08" fill="#dadada"/><polygon points="1339.03,659.21 1266.51,731.73 1268.27,733.49 1340.79,660.97" fill="#dadada"/><polygon points="1191.9,663.9 1253.4,725.4 1256.4,722.4 1194.9,660.9" fill="#f2f2f2" stroke="#262626" stroke-width="0.9" /><line x1="1193.4" y1="662.4" x2="1254.9" y2="723.9" stroke="#333" stroke-width="0.8"/><polygon points="1159,631 1173.5,645.5 1176.5,642.5 1162,628" fill="#f2f2f2" stroke="#262626" stroke-width="1" /><line x1="1160.5" y1="629.5" x2="1175" y2="644" stroke="#222" stroke-width="0.9"/><line x1="1191.9" y1="663.9" x2="1194.9" y2="660.9" stroke="#111" stroke-width="1.7"/><line x1="1253.4" y1="725.4" x2="1256.4" y2="722.4" stroke="#111" stroke-width="1.7"/><line x1="1159" y1="631" x2="1162" y2="628" stroke="#111" stroke-width="1.7"/><line x1="1173.5" y1="645.5" x2="1176.5" y2="642.5" stroke="#111" stroke-width="1.7"/><polygon points="1126.5,584.1 1139.5,584.1 1139.5,594 1146.7,601.5 1138.1,610.1 1126.5,598.5" fill="#dadada" stroke="#262626" stroke-width="1.2" /><polygon points="1309.75,781.75 1318.8,772.7 1326,779.8 1335.1,779.8 1335.1,792.2 1320.2,792.2" fill="#dadada" stroke="#262626" stroke-width="1.2" /><line x1="1129.8" y1="480.6" x2="1129.8" y2="561.3" stroke="#444" stroke-width="0.7"/><line x1="1126.5" y1="480.6" x2="1132.4" y2="480.6" stroke="#222" stroke-width="0.9"/><line x1="1126.5" y1="561.3" x2="1132.4" y2="561.3" stroke="#222" stroke-width="0.9"/><rect x="1350.1" y="787.3" width="81" height="5.2" fill="#e8e8e8" stroke="#222" stroke-width="1.1" /><line x1="1350.1" y1="789.7" x2="1431.1" y2="789.7" stroke="#222" stroke-width="1"/><rect x="1444.6" y="586.7" width="5" height="30.6" fill="#8a8a8a" stroke="#222" stroke-width="1" /><polygon points="1393.5,580.2 1401.3,573 1408.5,578.9 1418.4,578.9 1418.4,590.7 1404.6,590.7" fill="#dadada" stroke="#262626" stroke-width="1.2" /><rect x="1286.9" y="472.8" width="29.3" height="4.5" fill="#666" stroke="#222" stroke-width="1" /><polygon points="1327.9,501.4 1341.4,501.4 1341.4,511.2 1348.8,519 1338.4,526.8 1328.6,516.4" fill="#dadada" stroke="#262626" stroke-width="1.2" /><polygon points="1331,529.6 1336.9,524.6 1339.2,527.2 1333.3,532.4" fill="#fff" stroke="#262626" stroke-width="0.8" /><polygon points="1232.83,611.02 1212.83,630.72 1214.37,632.28 1234.37,612.58" fill="#222" stroke="#262626" stroke-width="0.3" /><line x1="1340.3" y1="659.7" x2="1267" y2="733" stroke="#444" stroke-width="0.6"/><polygon points="1361,634.4 1364.2,631.6 1367,634.6 1363.8,637.6" fill="#fff" stroke="#262626" stroke-width="0.8" /><polygon points="1333.18,530.67 1312.92,511.78 1311.56,513.24 1331.82,532.13" fill="#c8c8c8" stroke="#1c1c1c" stroke-width="0.9" /><path d="M1312.24,512.51 A27.7,27.7 0 0 0 1312.57,550.64" fill="none" stroke="#2a2a2a" stroke-width="0.9"/><g transform="translate(1313.12 513.33) rotate(223)"><rect x="-1.6" y="-2.3" width="3" height="4.6" fill="#555" stroke="#222" stroke-width="0.5" /><line x1="-2.6" y1="-1.2" x2="2.2" y2="-1.2" stroke="#222" stroke-width="0.7"/><line x1="-2.6" y1="1.2" x2="2.2" y2="1.2" stroke="#222" stroke-width="0.7"/></g><polygon points="1156.8,577.6 1156.8,603.6 1158.8,603.6 1158.8,577.6" fill="#c8c8c8" stroke="#1c1c1c" stroke-width="0.9" /><path d="M1157.8,603.6 A26,26 0 0 0 1183.8,577.6" fill="none" stroke="#2a2a2a" stroke-width="0.9"/><g transform="translate(1157.8 602.4) rotate(90)"><rect x="-1.6" y="-2.3" width="3" height="4.6" fill="#555" stroke="#222" stroke-width="0.5" /><line x1="-2.6" y1="-1.2" x2="2.2" y2="-1.2" stroke="#222" stroke-width="0.7"/><line x1="-2.6" y1="1.2" x2="2.2" y2="1.2" stroke="#222" stroke-width="0.7"/></g><polygon points="1263.9,574.98 1240.5,552.15 1239.1,553.58 1262.5,576.42" fill="#c8c8c8" stroke="#1c1c1c" stroke-width="0.9" /><path d="M1239.8,552.86 A32.7,32.7 0 0 0 1240.08,598.82" fill="none" stroke="#2a2a2a" stroke-width="0.9"/><g transform="translate(1240.66 553.7) rotate(224.3)"><rect x="-1.6" y="-2.3" width="3" height="4.6" fill="#555" stroke="#222" stroke-width="0.5" /><line x1="-2.6" y1="-1.2" x2="2.2" y2="-1.2" stroke="#222" stroke-width="0.7"/><line x1="-2.6" y1="1.2" x2="2.2" y2="1.2" stroke="#222" stroke-width="0.7"/></g><polygon points="1361.97,637.28 1383.67,660.8 1385.14,659.44 1363.43,635.92" fill="#c8c8c8" stroke="#1c1c1c" stroke-width="0.9" /><path d="M1384.4,660.12 A32,32 0 0 1 1340.71,659.85" fill="none" stroke="#2a2a2a" stroke-width="0.9"/><g transform="translate(1383.59 659.24) rotate(47.3)"><rect x="-1.6" y="-2.3" width="3" height="4.6" fill="#555" stroke="#222" stroke-width="0.5" /><line x1="-2.6" y1="-1.2" x2="2.2" y2="-1.2" stroke="#222" stroke-width="0.7"/><line x1="-2.6" y1="1.2" x2="2.2" y2="1.2" stroke="#222" stroke-width="0.7"/></g><polygon points="1397.06,662.25 1414.05,642.57 1412.53,641.26 1395.54,660.95" fill="#c8c8c8" stroke="#1c1c1c" stroke-width="0.9" /><path d="M1413.29,641.92 A26,26 0 0 0 1377.6,643.54" fill="none" stroke="#2a2a2a" stroke-width="0.9"/><g transform="translate(1412.5 642.83) rotate(-49.2)"><rect x="-1.6" y="-2.3" width="3" height="4.6" fill="#555" stroke="#222" stroke-width="0.5" /><line x1="-2.6" y1="-1.2" x2="2.2" y2="-1.2" stroke="#222" stroke-width="0.7"/><line x1="-2.6" y1="1.2" x2="2.2" y2="1.2" stroke="#222" stroke-width="0.7"/></g></g><g id="tA"><use href="#bed" transform="translate(1373.3 47.6) rotate(0)"/><g transform="translate(1363.6 55.4) rotate(0)"><rect x="-9.1" y="-7.2" width="18.2" height="14.4" fill="#fff" stroke="#1c1c1c" stroke-width="1.6" /><rect x="-7.3" y="-5.4" width="14.6" height="10.8" fill="none" stroke="#333" stroke-width="0.6" /><line x1="-9.1" y1="-7.2" x2="9.1" y2="7.2" stroke="#262626" stroke-width="0.6"/><line x1="-9.1" y1="7.2" x2="9.1" y2="-7.2" stroke="#262626" stroke-width="0.6"/><circle r="4.3" fill="#5a5a5a"/><circle r="2.2" fill="#333"/><line x1="0" y1="0" x2="4.99" y2="2.05" stroke="#333" stroke-width="0.8"/><line x1="0" y1="0" x2="2.08" y2="4.98" stroke="#333" stroke-width="0.8"/><line x1="0" y1="0" x2="-2.05" y2="4.99" stroke="#333" stroke-width="0.8"/><line x1="0" y1="0" x2="-4.98" y2="2.08" stroke="#333" stroke-width="0.8"/><line x1="0" y1="0" x2="-4.99" y2="-2.05" stroke="#333" stroke-width="0.8"/><line x1="0" y1="0" x2="-2.08" y2="-4.98" stroke="#333" stroke-width="0.8"/><line x1="0" y1="0" x2="2.05" y2="-4.99" stroke="#333" stroke-width="0.8"/><line x1="0" y1="0" x2="4.98" y2="-2.08" stroke="#333" stroke-width="0.8"/></g><g transform="translate(1438.4 55.4) rotate(0)"><rect x="-9.1" y="-7.2" width="18.2" height="14.4" fill="#fff" stroke="#1c1c1c" stroke-width="1.6" /><rect x="-7.3" y="-5.4" width="14.6" height="10.8" fill="none" stroke="#333" stroke-width="0.6" /><line x1="-9.1" y1="-7.2" x2="9.1" y2="7.2" stroke="#262626" stroke-width="0.6"/><line x1="-9.1" y1="7.2" x2="9.1" y2="-7.2" stroke="#262626" stroke-width="0.6"/><circle r="4.3" fill="#5a5a5a"/><circle r="2.2" fill="#333"/><line x1="0" y1="0" x2="4.99" y2="2.05" stroke="#333" stroke-width="0.8"/><line x1="0" y1="0" x2="2.08" y2="4.98" stroke="#333" stroke-width="0.8"/><line x1="0" y1="0" x2="-2.05" y2="4.99" stroke="#333" stroke-width="0.8"/><line x1="0" y1="0" x2="-4.98" y2="2.08" stroke="#333" stroke-width="0.8"/><line x1="0" y1="0" x2="-4.99" y2="-2.05" stroke="#333" stroke-width="0.8"/><line x1="0" y1="0" x2="-2.08" y2="-4.98" stroke="#333" stroke-width="0.8"/><line x1="0" y1="0" x2="2.05" y2="-4.99" stroke="#333" stroke-width="0.8"/><line x1="0" y1="0" x2="4.98" y2="-2.08" stroke="#333" stroke-width="0.8"/></g><g transform="translate(1373.35 154.3) rotate(225)"><rect x="-27" y="-13.5" width="54" height="27" rx="3" fill="none" stroke="#333" stroke-width="0.85" /><rect x="-27" y="-12" width="5.6" height="25.5" rx="2.5" fill="none" stroke="#333" stroke-width="0.7" /><rect x="21.4" y="-12" width="5.6" height="25.5" rx="2.5" fill="none" stroke="#333" stroke-width="0.7" /><rect x="-20.6" y="-7.9" width="20.6" height="20.7" rx="2.6" fill="none" stroke="#222" stroke-width="1.25" /><rect x="0" y="-7.9" width="20.6" height="20.7" rx="2.6" fill="none" stroke="#222" stroke-width="1.25" /></g><g transform="translate(1420.9 162.4) rotate(135)"><rect x="-14.65" y="-12.05" width="29.3" height="24.1" rx="3" fill="none" stroke="#333" stroke-width="0.85" /><rect x="-14.65" y="-10.55" width="4.4" height="22.6" rx="2.2" fill="none" stroke="#333" stroke-width="0.7" /><rect x="10.25" y="-10.55" width="4.4" height="22.6" rx="2.2" fill="none" stroke="#333" stroke-width="0.7" /><rect x="-9.45" y="-7.05" width="18.9" height="17.9" rx="2.6" fill="none" stroke="#222" stroke-width="1.3" /></g><g transform="translate(1402.6 183.9) rotate(45)"><rect x="-7.35" y="-7.35" width="14.7" height="14.7" fill="none" stroke="#333" stroke-width="0.95" /></g><g transform="translate(1312.8 204.7) rotate(45)"><rect x="-15.4" y="-15.4" width="30.8" height="30.8" fill="none" stroke="#222" stroke-width="1.4" /><rect x="-12.4" y="-12.4" width="24.8" height="24.8" fill="none" stroke="#2a2a2a" stroke-width="0.9" /><line x1="-15.4" y1="-6.1" x2="6.1" y2="-6.1" stroke="#262626" stroke-width="0.9"/><line x1="6.1" y1="-15.4" x2="6.1" y2="6.1" stroke="#262626" stroke-width="0.9"/><line x1="-6.1" y1="6.1" x2="15.4" y2="6.1" stroke="#262626" stroke-width="0.9"/><line x1="-6.1" y1="-6.1" x2="-6.1" y2="15.4" stroke="#262626" stroke-width="0.9"/></g><g transform="translate(1343.4 168.9) rotate(45)"><rect x="-36" y="-13.8" width="72" height="27.6" rx="3" fill="none" stroke="#333" stroke-width="0.85" /><rect x="-36" y="-12.3" width="5.6" height="26.1" rx="2.5" fill="none" stroke="#333" stroke-width="0.7" /><rect x="30.4" y="-12.3" width="5.6" height="26.1" rx="2.5" fill="none" stroke="#333" stroke-width="0.7" /><rect x="-29.6" y="-8.2" width="19.73" height="21.3" rx="2.6" fill="none" stroke="#222" stroke-width="1.25" /><rect x="-9.87" y="-8.2" width="19.73" height="21.3" rx="2.6" fill="none" stroke="#222" stroke-width="1.25" /><rect x="9.87" y="-8.2" width="19.73" height="21.3" rx="2.6" fill="none" stroke="#222" stroke-width="1.25" /></g><g transform="translate(1377.2 204.7) rotate(45)"><rect x="-7.35" y="-7.35" width="14.7" height="14.7" fill="none" stroke="#333" stroke-width="0.95" /></g><g transform="translate(1357.7 225.5) rotate(135)"><rect x="-14.65" y="-12.05" width="29.3" height="24.1" rx="3" fill="none" stroke="#333" stroke-width="0.85" /><rect x="-14.65" y="-10.55" width="4.4" height="22.6" rx="2.2" fill="none" stroke="#333" stroke-width="0.7" /><rect x="10.25" y="-10.55" width="4.4" height="22.6" rx="2.2" fill="none" stroke="#333" stroke-width="0.7" /><rect x="-9.45" y="-7.05" width="18.9" height="17.9" rx="2.6" fill="none" stroke="#222" stroke-width="1.3" /></g><g transform="translate(1337.1 247.7) rotate(135)"><rect x="-14.65" y="-12.05" width="29.3" height="24.1" rx="3" fill="none" stroke="#333" stroke-width="0.85" /><rect x="-14.65" y="-10.55" width="4.4" height="22.6" rx="2.2" fill="none" stroke="#333" stroke-width="0.7" /><rect x="10.25" y="-10.55" width="4.4" height="22.6" rx="2.2" fill="none" stroke="#333" stroke-width="0.7" /><rect x="-9.45" y="-7.05" width="18.9" height="17.9" rx="2.6" fill="none" stroke="#222" stroke-width="1.3" /></g><g transform="translate(1177.4 212.2) rotate(0)"><rect x="-28.3" y="-13.7" width="56.6" height="27.4" rx="3" fill="none" stroke="#333" stroke-width="0.85" /><rect x="-28.3" y="-12.2" width="5.6" height="25.9" rx="2.5" fill="none" stroke="#333" stroke-width="0.7" /><rect x="22.7" y="-12.2" width="5.6" height="25.9" rx="2.5" fill="none" stroke="#333" stroke-width="0.7" /><rect x="-21.9" y="-8.1" width="21.9" height="21.1" rx="2.6" fill="none" stroke="#222" stroke-width="1.25" /><rect x="0" y="-8.1" width="21.9" height="21.1" rx="2.6" fill="none" stroke="#222" stroke-width="1.25" /></g><g transform="translate(1136.8 212.8) rotate(0)"><rect x="-7.5" y="-7.65" width="15" height="15.3" fill="none" stroke="#333" stroke-width="0.95" /></g><use href="#bed" transform="translate(1129.8 307.9) rotate(-90)"/><g transform="translate(1137.2 244.1) rotate(90)"><rect x="-8.8" y="-7" width="17.6" height="14" fill="#fff" stroke="#1c1c1c" stroke-width="1.6" /><rect x="-7" y="-5.2" width="14" height="10.4" fill="none" stroke="#333" stroke-width="0.6" /><line x1="-8.8" y1="-7" x2="8.8" y2="7" stroke="#262626" stroke-width="0.6"/><line x1="-8.8" y1="7" x2="8.8" y2="-7" stroke="#262626" stroke-width="0.6"/><circle r="4.3" fill="#5a5a5a"/><circle r="2.2" fill="#333"/><line x1="0" y1="0" x2="4.99" y2="2.05" stroke="#333" stroke-width="0.8"/><line x1="0" y1="0" x2="2.08" y2="4.98" stroke="#333" stroke-width="0.8"/><line x1="0" y1="0" x2="-2.05" y2="4.99" stroke="#333" stroke-width="0.8"/><line x1="0" y1="0" x2="-4.98" y2="2.08" stroke="#333" stroke-width="0.8"/><line x1="0" y1="0" x2="-4.99" y2="-2.05" stroke="#333" stroke-width="0.8"/><line x1="0" y1="0" x2="-2.08" y2="-4.98" stroke="#333" stroke-width="0.8"/><line x1="0" y1="0" x2="2.05" y2="-4.99" stroke="#333" stroke-width="0.8"/><line x1="0" y1="0" x2="4.98" y2="-2.08" stroke="#333" stroke-width="0.8"/></g><g transform="translate(1137.2 318.4) rotate(90)"><rect x="-9.15" y="-7" width="18.3" height="14" fill="#fff" stroke="#1c1c1c" stroke-width="1.6" /><rect x="-7.35" y="-5.2" width="14.7" height="10.4" fill="none" stroke="#333" stroke-width="0.6" /><line x1="-9.15" y1="-7" x2="9.15" y2="7" stroke="#262626" stroke-width="0.6"/><line x1="-9.15" y1="7" x2="9.15" y2="-7" stroke="#262626" stroke-width="0.6"/><circle r="4.3" fill="#5a5a5a"/><circle r="2.2" fill="#333"/><line x1="0" y1="0" x2="4.99" y2="2.05" stroke="#333" stroke-width="0.8"/><line x1="0" y1="0" x2="2.08" y2="4.98" stroke="#333" stroke-width="0.8"/><line x1="0" y1="0" x2="-2.05" y2="4.99" stroke="#333" stroke-width="0.8"/><line x1="0" y1="0" x2="-4.98" y2="2.08" stroke="#333" stroke-width="0.8"/><line x1="0" y1="0" x2="-4.99" y2="-2.05" stroke="#333" stroke-width="0.8"/><line x1="0" y1="0" x2="-2.08" y2="-4.98" stroke="#333" stroke-width="0.8"/><line x1="0" y1="0" x2="2.05" y2="-4.99" stroke="#333" stroke-width="0.8"/><line x1="0" y1="0" x2="4.98" y2="-2.08" stroke="#333" stroke-width="0.8"/></g><g transform="translate(1198.1 280.9) rotate(90)"><rect x="-20.5" y="-6.75" width="41" height="13.5" fill="none" stroke="#333" stroke-width="0.95" /><line x1="-17.9" y1="-6.75" x2="-17.9" y2="6.75" stroke="#444" stroke-width="0.7"/><line x1="17.9" y1="-6.75" x2="17.9" y2="6.75" stroke="#444" stroke-width="0.7"/></g><polyline points="1148.1,129.4 1148.1,174.1 1228.2,174.1" fill="none" stroke="#444" stroke-width="0.8" /><rect x="1128.5" y="135.9" width="19.8" height="31.7" rx="1.5" fill="none" stroke="#555" stroke-width="0.7" /><rect x="1130.1" y="137.1" width="16.6" height="11.13" rx="1.2" fill="#c2c2c2" stroke="#555" stroke-width="0.7" /><rect x="1129.7" y="150.23" width="17.4" height="16.17" rx="3" fill="#fff" stroke="#555" stroke-width="0.9" /><circle cx="1137.4" cy="155.57" r="0.9" fill="#aaa"/><rect x="1172.4" y="173.6" width="25.4" height="20.4" fill="#f4f4f4" stroke="#444" stroke-width="0.8" /><circle cx="1177.48" cy="179.31" r="3.3" fill="#c9c9c9"/><circle cx="1177.48" cy="188.7" r="3" fill="#c9c9c9"/><circle cx="1192.72" cy="179.31" r="3.3" fill="#c9c9c9"/><circle cx="1192.72" cy="188.7" r="3" fill="#c9c9c9"/><rect x="1181.9" y="176.6" width="6.4" height="14.4" fill="#c9c9c9" stroke="none" stroke-width="0" /><rect x="1171.9" y="172.6" width="26.4" height="2" fill="#222" stroke="none" stroke-width="0" /><g transform="translate(1272.7 65.3) rotate(0)"><rect x="-8" y="0" width="16" height="5.7" rx="0.8" fill="#fff" stroke="#1e1e1e" stroke-width="1.3" /><line x1="-5.2" y1="5.7" x2="-5.6" y2="9.5" stroke="#222" stroke-width="0.9"/><line x1="5.2" y1="5.7" x2="5.6" y2="9.5" stroke="#222" stroke-width="0.9"/><path d="M-5.8,11.2 A5.8,3.8 0 0 1 5.8,11.2 A5.8,11.2 0 0 1 -5.8,11.2 Z" fill="#fff" stroke="#1e1e1e" stroke-width="1.25"/><path d="M-4.29,12.2 A4.29,2.81 0 0 1 4.29,12.2 A4.29,8.29 0 0 1 -4.29,12.2 Z" fill="none" stroke="#333" stroke-width="0.8"/><path d="M-2.78,13.2 A2.78,1.82 0 0 1 2.78,13.2 A2.78,5.38 0 0 1 -2.78,13.2 Z" fill="none" stroke="#333" stroke-width="0.8"/></g><g transform="translate(1238.7 83.6) rotate(-45)"><ellipse cx="0" cy="0" rx="7.6" ry="6.2" fill="#fff" stroke="#222" stroke-width="1.0"/><ellipse cx="0" cy="0.6" rx="6.2" ry="4.8" fill="none" stroke="#222" stroke-width="0.9"/><circle cx="0" cy="-1.2" r="1" fill="#111"/></g><g transform="translate(1260.3 114) rotate(0)"><line x1="-2.2" y1="0" x2="2.2" y2="0" stroke="#333" stroke-width="0.5"/><line x1="-1.1" y1="-1.91" x2="1.1" y2="1.91" stroke="#333" stroke-width="0.5"/><line x1="1.1" y1="-1.91" x2="-1.1" y2="1.91" stroke="#333" stroke-width="0.5"/><line x1="2.2" y1="0" x2="-2.2" y2="0" stroke="#333" stroke-width="0.5"/><line x1="1.1" y1="1.91" x2="-1.1" y2="-1.91" stroke="#333" stroke-width="0.5"/><line x1="-1.1" y1="1.91" x2="1.1" y2="-1.91" stroke="#333" stroke-width="0.5"/></g><rect x="1263" y="46.5" width="23.3" height="15.5" fill="none" stroke="#444" stroke-width="0.7" /><line x1="1263" y1="46.5" x2="1286.3" y2="62" stroke="#444" stroke-width="0.6"/><line x1="1263" y1="62" x2="1286.3" y2="46.5" stroke="#444" stroke-width="0.6"/><rect x="1263" y="62" width="23.3" height="3" fill="#555" stroke="#333" stroke-width="0.6" /><line x1="1290.7" y1="65.9" x2="1331" y2="65.9" stroke="#444" stroke-width="0.7"/><line x1="1290.7" y1="65.9" x2="1331" y2="47.1" stroke="#444" stroke-width="0.6"/><g transform="translate(1284.8 254.1) rotate(45)"><rect x="-8" y="0" width="16" height="5.7" rx="0.8" fill="#fff" stroke="#1e1e1e" stroke-width="1.3" /><line x1="-5.2" y1="5.7" x2="-5.6" y2="9.5" stroke="#222" stroke-width="0.9"/><line x1="5.2" y1="5.7" x2="5.6" y2="9.5" stroke="#222" stroke-width="0.9"/><path d="M-5.8,11.2 A5.8,3.8 0 0 1 5.8,11.2 A5.8,11.2 0 0 1 -5.8,11.2 Z" fill="#fff" stroke="#1e1e1e" stroke-width="1.25"/><path d="M-4.29,12.2 A4.29,2.81 0 0 1 4.29,12.2 A4.29,8.29 0 0 1 -4.29,12.2 Z" fill="none" stroke="#333" stroke-width="0.8"/><path d="M-2.78,13.2 A2.78,1.82 0 0 1 2.78,13.2 A2.78,5.38 0 0 1 -2.78,13.2 Z" fill="none" stroke="#333" stroke-width="0.8"/></g><g transform="translate(1301.7 278) rotate(45)"><ellipse cx="0" cy="0" rx="7.6" ry="6.2" fill="#fff" stroke="#222" stroke-width="1.0"/><ellipse cx="0" cy="0.6" rx="6.2" ry="4.8" fill="none" stroke="#222" stroke-width="0.9"/><circle cx="0" cy="-1.2" r="1" fill="#111"/></g><g transform="translate(1282.4 311.2) rotate(0)"><line x1="-2.2" y1="0" x2="2.2" y2="0" stroke="#333" stroke-width="0.5"/><line x1="-1.1" y1="-1.91" x2="1.1" y2="1.91" stroke="#333" stroke-width="0.5"/><line x1="1.1" y1="-1.91" x2="-1.1" y2="1.91" stroke="#333" stroke-width="0.5"/><line x1="2.2" y1="0" x2="-2.2" y2="0" stroke="#333" stroke-width="0.5"/><line x1="1.1" y1="1.91" x2="-1.1" y2="-1.91" stroke="#333" stroke-width="0.5"/><line x1="-1.1" y1="1.91" x2="1.1" y2="-1.91" stroke="#333" stroke-width="0.5"/></g><line x1="1257.5" y1="223.3" x2="1238.7" y2="245.4" stroke="#444" stroke-width="0.7"/><line x1="1258.6" y1="228.8" x2="1242.6" y2="271.9" stroke="#444" stroke-width="0.6"/><polyline points="1139.4,338.5 1139.4,371.3 1226.65,371.3 1226.65,338.5" fill="none" stroke="#333" stroke-width="4.2" /><polyline points="1139.4,338.5 1139.4,371.3 1226.65,371.3 1226.65,338.5" fill="none" stroke="#c4c4c4" stroke-width="2.5" /><polyline points="1139.4,338.5 1139.4,371.3 1226.65,371.3 1226.65,338.5" fill="none" stroke="#4a4a4a" stroke-width="0.8" /><polyline points="1332.78,276.82 1356.26,300.29 1414.99,241.56 1391.52,218.08" fill="none" stroke="#333" stroke-width="4.2" /><polyline points="1332.78,276.82 1356.26,300.29 1414.99,241.56 1391.52,218.08" fill="none" stroke="#c4c4c4" stroke-width="2.5" /><polyline points="1332.78,276.82 1356.26,300.29 1414.99,241.56 1391.52,218.08" fill="none" stroke="#4a4a4a" stroke-width="0.8" /><polygon points="1454.7,155 1283,326.7 1280.2,323.8 1449,155" fill="#dadada" stroke="#262626" stroke-width="1.15" /><polygon points="1250.3,41.2 1464.7,41.2 1464.7,46.5 1250.3,46.5" fill="#dadada" stroke="#262626" stroke-width="1.15" /><polygon points="1459.3,46.5 1464.7,46.5 1464.7,129.6 1459.3,129.6" fill="#dadada" stroke="#262626" stroke-width="1.15" /><polygon points="1122.2,123.8 1127.4,123.8 1127.4,338.5 1122.2,338.5" fill="#dadada" stroke="#262626" stroke-width="1.15" /><polygon points="1122.2,123.8 1172.4,123.8 1172.4,129.4 1122.2,129.4" fill="#dadada" stroke="#262626" stroke-width="1.15" /><polygon points="1122.2,333.3 1255.8,333.3 1255.8,338.5 1122.2,338.5" fill="#dadada" stroke="#262626" stroke-width="1.15" /><polygon points="1127.4,194.6 1232.7,194.6 1232.7,198.5 1127.4,198.5" fill="#dadada" stroke="#262626" stroke-width="1.15" /><polygon points="1221.9,153.3 1224.5,150.9 1232.7,159.2 1232.7,199 1236.4,198.6 1234.6,201.2 1228.2,198.5 1228.2,160" fill="#dadada" stroke="#262626" stroke-width="1.15" /><polygon points="1244.2,63.6 1216.6,91.3 1220.5,95.2 1248.1,67.5" fill="#dadada" stroke="#262626" stroke-width="1.15" /><polygon points="1223.2,93.5 1266.9,137.2 1266.9,131.2 1226.2,90.5" fill="#dadada" stroke="#262626" stroke-width="1.15" /><polygon points="1266.9,137.2 1303.9,100.2 1300.9,97.2 1266.9,131.2" fill="#dadada" stroke="#262626" stroke-width="1.15" /><polygon points="1286.8,46.5 1290.7,46.5 1290.7,66.4 1286.8,66.4" fill="#dadada" stroke="#262626" stroke-width="1.15" /><polygon points="1331,46.5 1334.4,46.5 1334.4,69.8 1322.6,82.4 1320.2,80 1331,68.5" fill="#dadada" stroke="#262626" stroke-width="1.15" /><polygon points="1324.23,131.77 1398.33,205.87 1400.87,203.33 1326.77,129.23" fill="#dadada" stroke="#262626" stroke-width="1.1" /><polygon points="1256.53,224.27 1317.13,284.87 1319.67,282.33 1259.07,221.73" fill="#dadada" stroke="#262626" stroke-width="1.1" /><polygon points="1273.41,241.98 1240.31,274.28 1242.69,276.72 1275.79,244.42" fill="#dadada" stroke="#262626" stroke-width="1.1" /><polygon points="1238.7,245.4 1241.5,245.4 1241.5,283.5 1238.7,283.5" fill="#dadada" stroke="#262626" stroke-width="1.15" /><polygon points="1238.7,307.9 1241.5,307.9 1241.5,333.3 1238.7,333.3" fill="#dadada" stroke="#262626" stroke-width="1.15" /><polygon points="1453.37,155.55 1283.01,325.92 1280.97,323.81 1449.23,155.55" fill="#dadada"/><polygon points="1250.85,41.75 1464.15,41.75 1464.15,45.95 1250.85,45.95" fill="#dadada"/><polygon points="1459.85,47.05 1464.15,47.05 1464.15,129.05 1459.85,129.05" fill="#dadada"/><polygon points="1122.75,124.35 1126.85,124.35 1126.85,337.95 1122.75,337.95" fill="#dadada"/><polygon points="1122.75,124.35 1171.85,124.35 1171.85,128.85 1122.75,128.85" fill="#dadada"/><polygon points="1122.75,333.85 1255.25,333.85 1255.25,337.95 1122.75,337.95" fill="#dadada"/><polygon points="1127.95,195.15 1232.15,195.15 1232.15,197.95 1127.95,197.95" fill="#dadada"/><polygon points="1222.68,153.33 1224.48,151.66 1232.15,159.43 1232.15,199.61 1235.26,199.28 1234.4,200.52 1228.75,198.14 1228.75,159.78" fill="#dadada"/><polygon points="1244.2,64.38 1217.38,91.3 1220.5,94.42 1247.32,67.5" fill="#dadada"/><polygon points="1223.98,93.5 1266.35,135.87 1266.35,131.43 1226.2,91.28" fill="#dadada"/><polygon points="1267.45,135.87 1303.12,100.2 1300.9,97.98 1267.45,131.43" fill="#dadada"/><polygon points="1287.35,47.05 1290.15,47.05 1290.15,65.85 1287.35,65.85" fill="#dadada"/><polygon points="1331.55,47.05 1333.85,47.05 1333.85,69.58 1322.59,81.61 1320.97,79.99 1331.55,68.72" fill="#dadada"/><polygon points="1325.01,131.77 1398.33,205.09 1400.09,203.33 1326.77,130.01" fill="#dadada"/><polygon points="1257.31,224.27 1317.13,284.09 1318.89,282.33 1259.07,222.51" fill="#dadada"/><polygon points="1273.4,242.76 1241.09,274.29 1242.7,275.94 1275.01,244.41" fill="#dadada"/><polygon points="1239.25,245.95 1240.95,245.95 1240.95,282.95 1239.25,282.95" fill="#dadada"/><polygon points="1239.25,308.45 1240.95,308.45 1240.95,332.75 1239.25,332.75" fill="#dadada"/><polygon points="1452,157.7 1423.5,186.2 1420.7,183.3 1449.2,154.8" fill="#f2f2f2" stroke="#262626" stroke-width="1" /><line x1="1450.6" y1="156.25" x2="1422.1" y2="184.75" stroke="#222" stroke-width="0.9"/><polygon points="1391.5,218.2 1332.5,277.2 1329.7,274.3 1388.7,215.3" fill="#f2f2f2" stroke="#262626" stroke-width="1" /><line x1="1390.1" y1="216.75" x2="1331.1" y2="275.75" stroke="#222" stroke-width="0.9"/><polygon points="1309,300.7 1293,316.7 1290.2,313.8 1306.2,297.8" fill="#f2f2f2" stroke="#262626" stroke-width="1" /><line x1="1307.6" y1="299.25" x2="1291.6" y2="315.25" stroke="#222" stroke-width="0.9"/><line x1="1452" y1="157.7" x2="1449.15" y2="154.85" stroke="#111" stroke-width="1.7"/><line x1="1423.5" y1="186.2" x2="1420.65" y2="183.35" stroke="#111" stroke-width="1.7"/><line x1="1391.5" y1="218.2" x2="1388.65" y2="215.35" stroke="#111" stroke-width="1.7"/><line x1="1332.5" y1="277.2" x2="1329.65" y2="274.35" stroke="#111" stroke-width="1.7"/><line x1="1309" y1="300.7" x2="1306.15" y2="297.85" stroke="#111" stroke-width="1.7"/><line x1="1293" y1="316.7" x2="1290.15" y2="313.85" stroke="#111" stroke-width="1.7"/><polygon points="1452.1,129.6 1464.7,129.6 1464.7,145 1454.7,155 1446.25,146.5 1452.1,140.7" fill="#dadada" stroke="#262626" stroke-width="1.2" /><polygon points="1255.8,324.9 1267.6,324.9 1274.3,318.2 1283,326.7 1271.2,338.5 1255.8,338.5" fill="#dadada" stroke="#262626" stroke-width="1.2" /><polygon points="1250.3,46.5 1262.5,46.5 1262.5,62 1252,72.5 1244.2,64.2 1250.3,58.1" fill="#dadada" stroke="#262626" stroke-width="1.2" /><line x1="1461.2" y1="61.25" x2="1461.2" y2="129.6" stroke="#444" stroke-width="0.7"/><polygon points="1454.7,46.5 1464.7,46.5 1464.7,61.25 1454.7,61.25" fill="#dadada" stroke="#262626" stroke-width="1.2" /><rect x="1124.4" y="132.1" width="3" height="29.9" fill="#777" stroke="#222" stroke-width="0.8" /><rect x="1142.6" y="333.3" width="81.3" height="5.2" fill="#e8e8e8" stroke="#222" stroke-width="1" /><line x1="1142.6" y1="335.6" x2="1223.9" y2="335.6" stroke="#222" stroke-width="1"/><polygon points="1172.4,124.4 1182.3,124.4 1190.1,117.2 1197.3,128.2 1188.4,137.1 1173,137.1" fill="#dadada" stroke="#262626" stroke-width="1.2" /><polygon points="1190.4,116.6 1192.6,114.8 1204.6,131.2 1202.4,133" fill="#fff" stroke="#262626" stroke-width="0.8" /><polygon points="1299.4,98.8 1301.6,96.8 1306.6,106.2 1304.2,108.2" fill="#fff" stroke="#262626" stroke-width="0.8" /><polygon points="1215.6,91 1217.8,89 1220.6,92 1218.4,94" fill="#fff" stroke="#262626" stroke-width="0.8" /><line x1="1325.5" y1="130.5" x2="1399.6" y2="204.6" stroke="#444" stroke-width="0.6"/><polygon points="1277.76,238.46 1297.16,257.26 1298.84,255.54 1279.44,236.74" fill="#222" stroke="#262626" stroke-width="0.3" /><polygon points="1216.96,94.18 1238.58,117.77 1240.06,116.42 1218.44,92.82" fill="#c8c8c8" stroke="#1c1c1c" stroke-width="0.9" /><path d="M1239.32,117.09 A32,32 0 0 1 1193.92,114.91" fill="none" stroke="#2a2a2a" stroke-width="0.9"/><g transform="translate(1238.51 116.21) rotate(47.5)"><rect x="-1.6" y="-2.3" width="3" height="4.6" fill="#555" stroke="#222" stroke-width="0.5" /><line x1="-2.6" y1="-1.2" x2="2.2" y2="-1.2" stroke="#222" stroke-width="0.7"/><line x1="-2.6" y1="1.2" x2="2.2" y2="1.2" stroke="#222" stroke-width="0.7"/></g><polygon points="1202.67,132.01 1183.85,151.92 1185.3,153.3 1204.13,133.39" fill="#c8c8c8" stroke="#1c1c1c" stroke-width="0.9" /><path d="M1184.57,152.61 A27.4,27.4 0 0 0 1222.47,152.38" fill="none" stroke="#2a2a2a" stroke-width="0.9"/><g transform="translate(1185.4 151.74) rotate(133.4)"><rect x="-1.6" y="-2.3" width="3" height="4.6" fill="#555" stroke="#222" stroke-width="0.5" /><line x1="-2.6" y1="-1.2" x2="2.2" y2="-1.2" stroke="#222" stroke-width="0.7"/><line x1="-2.6" y1="1.2" x2="2.2" y2="1.2" stroke="#222" stroke-width="0.7"/></g><polygon points="1321.88,80.12 1299.34,67.78 1298.38,69.54 1320.92,81.88" fill="#c8c8c8" stroke="#1c1c1c" stroke-width="0.9" /><path d="M1298.86,68.66 A25.7,25.7 0 0 0 1302.7,98.63" fill="none" stroke="#2a2a2a" stroke-width="0.9"/><g transform="translate(1299.91 69.23) rotate(208.7)"><rect x="-1.6" y="-2.3" width="3" height="4.6" fill="#555" stroke="#222" stroke-width="0.5" /><line x1="-2.6" y1="-1.2" x2="2.2" y2="-1.2" stroke="#222" stroke-width="0.7"/><line x1="-2.6" y1="1.2" x2="2.2" y2="1.2" stroke="#222" stroke-width="0.7"/></g><polygon points="1302.99,108.62 1326.89,85.87 1325.51,84.42 1301.61,107.18" fill="#c8c8c8" stroke="#1c1c1c" stroke-width="0.9" /><path d="M1326.2,85.14 A33,33 0 0 1 1325.92,130.95" fill="none" stroke="#2a2a2a" stroke-width="0.9"/><g transform="translate(1325.33 85.97) rotate(-43.6)"><rect x="-1.6" y="-2.3" width="3" height="4.6" fill="#555" stroke="#222" stroke-width="0.5" /><line x1="-2.6" y1="-1.2" x2="2.2" y2="-1.2" stroke="#222" stroke-width="0.7"/><line x1="-2.6" y1="1.2" x2="2.2" y2="1.2" stroke="#222" stroke-width="0.7"/></g><polygon points="1234.18,199.4 1212.6,221.52 1214.03,222.91 1235.62,200.8" fill="#c8c8c8" stroke="#1c1c1c" stroke-width="0.9" /><path d="M1213.32,222.21 A30.9,30.9 0 0 0 1257.09,221.6" fill="none" stroke="#2a2a2a" stroke-width="0.9"/><g transform="translate(1214.16 221.36) rotate(134.3)"><rect x="-1.6" y="-2.3" width="3" height="4.6" fill="#555" stroke="#222" stroke-width="0.5" /><line x1="-2.6" y1="-1.2" x2="2.2" y2="-1.2" stroke="#222" stroke-width="0.7"/><line x1="-2.6" y1="1.2" x2="2.2" y2="1.2" stroke="#222" stroke-width="0.7"/></g><polygon points="1241.5,284 1265,284 1265,282 1241.5,282" fill="#c8c8c8" stroke="#1c1c1c" stroke-width="0.9" /><path d="M1265,283 A23.5,23.5 0 0 1 1241.5,306.5" fill="none" stroke="#2a2a2a" stroke-width="0.9"/><g transform="translate(1263.8 283) rotate(0)"><rect x="-1.6" y="-2.3" width="3" height="4.6" fill="#555" stroke="#222" stroke-width="0.5" /><line x1="-2.6" y1="-1.2" x2="2.2" y2="-1.2" stroke="#222" stroke-width="0.7"/><line x1="-2.6" y1="1.2" x2="2.2" y2="1.2" stroke="#222" stroke-width="0.7"/></g></g></defs>
<rect x="21.3" y="19.3" width="1494.7" height="1046.7" fill="none" stroke="#0a0a0a" stroke-width="2.6" /><rect x="51.1" y="895.9" width="428.6" height="126.4" fill="none" stroke="#333" stroke-width="0.9" /><line x1="51.1" y1="926.4" x2="479.7" y2="926.4" stroke="#222" stroke-width="1.5"/><line x1="51.1" y1="950.4" x2="479.7" y2="950.4" stroke="#222" stroke-width="0.9"/><line x1="51.1" y1="974.3" x2="479.7" y2="974.3" stroke="#222" stroke-width="0.9"/><line x1="51.1" y1="998.6" x2="479.7" y2="998.6" stroke="#222" stroke-width="0.9"/><line x1="116.4" y1="926.4" x2="116.4" y2="974.3" stroke="#222" stroke-width="0.9"/><line x1="320.9" y1="926.4" x2="320.9" y2="974.3" stroke="#222" stroke-width="0.9"/><line x1="320.9" y1="998.6" x2="320.9" y2="1022.3" stroke="#222" stroke-width="0.9"/><text x="167.3" y="917.1" font-family="Liberation Serif" font-size="20" text-anchor="start" fill="#222" textLength="192.6" lengthAdjust="spacingAndGlyphs" >ABU-BAKKAR BLOCK</text><text x="75.9" y="942.9" font-family="Liberation Sans" font-size="15.6" text-anchor="start" fill="#2a2a2a" textLength="9.9" lengthAdjust="spacingAndGlyphs" >01</text><text x="75.3" y="965.7" font-family="Liberation Sans" font-size="15.6" text-anchor="start" fill="#2a2a2a" textLength="10.5" lengthAdjust="spacingAndGlyphs" >02</text><text x="128.9" y="943.5" font-family="Liberation Sans" font-size="15.6" text-anchor="start" fill="#2a2a2a" textLength="93.5" lengthAdjust="spacingAndGlyphs" >APARTMENTS AREA</text><text x="128.9" y="967.5" font-family="Liberation Sans" font-size="15.6" text-anchor="start" fill="#2a2a2a" textLength="76.1" lengthAdjust="spacingAndGlyphs" >SERVICES AREA</text><text x="129.8" y="1015.1" font-family="Liberation Sans" font-size="15.6" text-anchor="start" fill="#2a2a2a" textLength="107.3" lengthAdjust="spacingAndGlyphs" >TOTAL COVERED AREA</text><text x="353" y="943.5" font-family="Liberation Sans" font-size="15.6" text-anchor="start" fill="#2a2a2a" textLength="35.3" lengthAdjust="spacingAndGlyphs" >3227 Sft</text><text x="353" y="967.5" font-family="Liberation Sans" font-size="15.6" text-anchor="start" fill="#2a2a2a" textLength="29.9" lengthAdjust="spacingAndGlyphs" >979 Sft</text><text x="353" y="1015.1" font-family="Liberation Sans" font-size="15.6" text-anchor="start" fill="#2a2a2a" textLength="35.3" lengthAdjust="spacingAndGlyphs" >4206 Sft</text><rect x="560.1" y="889.9" width="428.2" height="150.3" fill="none" stroke="#333" stroke-width="0.9" /><line x1="560.1" y1="919.8" x2="988.3" y2="919.8" stroke="#222" stroke-width="1.5"/><line x1="560.1" y1="944.1" x2="988.3" y2="944.1" stroke="#222" stroke-width="0.9"/><line x1="560.1" y1="968.3" x2="988.3" y2="968.3" stroke="#222" stroke-width="0.9"/><line x1="560.1" y1="992.3" x2="988.3" y2="992.3" stroke="#222" stroke-width="0.9"/><line x1="560.1" y1="1016.6" x2="988.3" y2="1016.6" stroke="#222" stroke-width="0.9"/><line x1="625.1" y1="919.8" x2="625.1" y2="992.3" stroke="#222" stroke-width="0.9"/><line x1="829.6" y1="919.8" x2="829.6" y2="992.3" stroke="#222" stroke-width="0.9"/><line x1="829.6" y1="1016.6" x2="829.6" y2="1040.2" stroke="#222" stroke-width="0.9"/><text x="676.3" y="910.2" font-family="Liberation Serif" font-size="20" text-anchor="start" fill="#222" textLength="73.3" lengthAdjust="spacingAndGlyphs" >TYPE - A</text><text x="584.3" y="936.9" font-family="Liberation Sans" font-size="15.6" text-anchor="start" fill="#2a2a2a" textLength="10.2" lengthAdjust="spacingAndGlyphs" >01</text><text x="584.3" y="961.2" font-family="Liberation Sans" font-size="15.6" text-anchor="start" fill="#2a2a2a" textLength="10.2" lengthAdjust="spacingAndGlyphs" >02</text><text x="584.3" y="985.1" font-family="Liberation Sans" font-size="15.6" text-anchor="start" fill="#2a2a2a" textLength="10.2" lengthAdjust="spacingAndGlyphs" >03</text><text x="637.6" y="936.9" font-family="Liberation Sans" font-size="15.6" text-anchor="start" fill="#2a2a2a" textLength="75.2" lengthAdjust="spacingAndGlyphs" >COVERED AREA</text><text x="637.6" y="961.2" font-family="Liberation Sans" font-size="15.6" text-anchor="start" fill="#2a2a2a" textLength="76.1" lengthAdjust="spacingAndGlyphs" >SERVICES AREA</text><text x="637.6" y="985.7" font-family="Liberation Sans" font-size="15.6" text-anchor="start" fill="#2a2a2a" textLength="70.7" lengthAdjust="spacingAndGlyphs" >PARKING AREA</text><text x="637.6" y="1033.3" font-family="Liberation Sans" font-size="15.6" text-anchor="start" fill="#2a2a2a" textLength="66.8" lengthAdjust="spacingAndGlyphs" >GRAND TOTAL</text><text x="861.4" y="936.9" font-family="Liberation Sans" font-size="15.6" text-anchor="start" fill="#2a2a2a" textLength="38" lengthAdjust="spacingAndGlyphs" >792.6 Sft</text><text x="861.4" y="961.2" font-family="Liberation Sans" font-size="15.6" text-anchor="start" fill="#2a2a2a" textLength="43.4" lengthAdjust="spacingAndGlyphs" >244.75 Sft</text><text x="861.4" y="985.7" font-family="Liberation Sans" font-size="15.6" text-anchor="start" fill="#2a2a2a" textLength="29.6" lengthAdjust="spacingAndGlyphs" >120 Sft</text><text x="861.4" y="1033.3" font-family="Liberation Sans" font-size="15.6" text-anchor="start" fill="#2a2a2a" textLength="47.9" lengthAdjust="spacingAndGlyphs" >1162.35 Sft</text><rect x="1066.1" y="891.2" width="428.2" height="150.3" fill="none" stroke="#333" stroke-width="0.9" /><line x1="1066.1" y1="921.1" x2="1494.3" y2="921.1" stroke="#222" stroke-width="1.5"/><line x1="1066.1" y1="945.4" x2="1494.3" y2="945.4" stroke="#222" stroke-width="0.9"/><line x1="1066.1" y1="969.6" x2="1494.3" y2="969.6" stroke="#222" stroke-width="0.9"/><line x1="1066.1" y1="993.6" x2="1494.3" y2="993.6" stroke="#222" stroke-width="0.9"/><line x1="1066.1" y1="1017.9" x2="1494.3" y2="1017.9" stroke="#222" stroke-width="0.9"/><line x1="1131.1" y1="921.1" x2="1131.1" y2="993.6" stroke="#222" stroke-width="0.9"/><line x1="1335.6" y1="921.1" x2="1335.6" y2="993.6" stroke="#222" stroke-width="0.9"/><line x1="1335.6" y1="1017.9" x2="1335.6" y2="1041.5" stroke="#222" stroke-width="0.9"/><text x="1182.3" y="911.5" font-family="Liberation Serif" font-size="20" text-anchor="start" fill="#222" textLength="73.3" lengthAdjust="spacingAndGlyphs" >TYPE - B</text><text x="1090.3" y="938.2" font-family="Liberation Sans" font-size="15.6" text-anchor="start" fill="#2a2a2a" textLength="10.2" lengthAdjust="spacingAndGlyphs" >01</text><text x="1090.3" y="962.5" font-family="Liberation Sans" font-size="15.6" text-anchor="start" fill="#2a2a2a" textLength="10.2" lengthAdjust="spacingAndGlyphs" >02</text><text x="1090.3" y="986.4" font-family="Liberation Sans" font-size="15.6" text-anchor="start" fill="#2a2a2a" textLength="10.2" lengthAdjust="spacingAndGlyphs" >03</text><text x="1143.6" y="938.2" font-family="Liberation Sans" font-size="15.6" text-anchor="start" fill="#2a2a2a" textLength="75.2" lengthAdjust="spacingAndGlyphs" >COVERED AREA</text><text x="1143.6" y="962.5" font-family="Liberation Sans" font-size="15.6" text-anchor="start" fill="#2a2a2a" textLength="76.1" lengthAdjust="spacingAndGlyphs" >SERVICES AREA</text><text x="1143.6" y="987" font-family="Liberation Sans" font-size="15.6" text-anchor="start" fill="#2a2a2a" textLength="70.7" lengthAdjust="spacingAndGlyphs" >PARKING AREA</text><text x="1143.6" y="1034.6" font-family="Liberation Sans" font-size="15.6" text-anchor="start" fill="#2a2a2a" textLength="66.8" lengthAdjust="spacingAndGlyphs" >GRAND TOTAL</text><text x="1367.4" y="938.2" font-family="Liberation Sans" font-size="15.6" text-anchor="start" fill="#2a2a2a" textLength="43.4" lengthAdjust="spacingAndGlyphs" >821.16 Sft</text><text x="1367.4" y="962.5" font-family="Liberation Sans" font-size="15.6" text-anchor="start" fill="#2a2a2a" textLength="43.4" lengthAdjust="spacingAndGlyphs" >244.75 Sft</text><text x="1367.4" y="987" font-family="Liberation Sans" font-size="15.6" text-anchor="start" fill="#2a2a2a" textLength="29.6" lengthAdjust="spacingAndGlyphs" >120 Sft</text><text x="1367.4" y="1034.6" font-family="Liberation Sans" font-size="15.6" text-anchor="start" fill="#2a2a2a" textLength="47.9" lengthAdjust="spacingAndGlyphs" >1196.35 Sft</text><text x="99.5" y="823.9" font-family="Liberation Sans" font-size="23.2" text-anchor="start" fill="#111" textLength="212.9" lengthAdjust="spacingAndGlyphs" >2 BED APARTMENTS</text><text x="1250" y="399.1" font-family="Liberation Sans" font-size="20.8" text-anchor="start" fill="#111" textLength="67.2" lengthAdjust="spacingAndGlyphs" >TYPE A</text><text x="1224" y="838.3" font-family="Liberation Sans" font-size="20.8" text-anchor="start" fill="#111" textLength="65" lengthAdjust="spacingAndGlyphs" >TYPE B</text><use href="#tA"/><use href="#tBs"/><use href="#tB" transform="translate(-1030.8 -42)"/><use href="#tB" transform="translate(-1030.8 884.2) scale(1 -1)"/><use href="#tA" transform="translate(-708.8 412.6)"/><use href="#tA" transform="translate(-708.8 429.6) scale(1 -1)"/><g transform="translate(-708.8 412.6)" ><polyline points="1331.58,278.02 1355.06,301.49 1416.19,240.36 1392.72,216.88" fill="none" stroke="#8c8c8c" stroke-width="4.2" /><polyline points="1330.74,278.86 1355.06,303.19 1417.89,240.36 1393.56,216.04" fill="none" stroke="#111" stroke-width="1.9" /><polyline points="1333.07,276.53 1355.06,298.52 1413.22,240.36 1391.23,218.37" fill="none" stroke="#333" stroke-width="0.7" /><line x1="1330.6" y1="279.1" x2="1393.8" y2="215.9" stroke="#111" stroke-width="1.7"/></g><polygon points="401.68,362.2 450.72,362.2 485.4,396.88 485.4,445.92 450.72,480.6 401.68,480.6 367,445.92 367,396.88" fill="#9c9c9c" stroke="#444" stroke-width="0.9" /><polygon points="403.34,366.2 449.06,366.2 481.4,398.54 481.4,444.26 449.06,476.6 403.34,476.6 371,444.26 371,398.54" fill="#fff" stroke="#444" stroke-width="0.9" /><polygon points="402.51,364.2 449.89,364.2 483.4,397.71 483.4,445.09 449.89,478.6 402.51,478.6 369,445.09 369,397.71" fill="none" stroke="#666" stroke-width="0.6" /><line x1="541.2" y1="384" x2="541.2" y2="458.6" stroke="#333" stroke-width="0.9"/><line x1="755.5" y1="368.5" x2="755.5" y2="474" stroke="#333" stroke-width="0.9"/><polygon points="305.6,411.4 310,411.4 310,431.3 305.6,431.3" fill="#dadada" stroke="#262626" stroke-width="1.15" /><!--W:306.15,411.95 309.45,411.95 309.45,430.75 306.15,430.75--><line x1="235.3" y1="411.6" x2="305.6" y2="431.1" stroke="#444" stroke-width="0.6"/><line x1="235.3" y1="431.1" x2="305.6" y2="411.6" stroke="#444" stroke-width="0.6"/><line x1="236" y1="411.4" x2="236" y2="431.3" stroke="#444" stroke-width="0.7"/><line x1="305" y1="411.4" x2="305" y2="431.3" stroke="#444" stroke-width="0.7"/><polyline points="810.5,27.8 810.5,321.5 779.8,333.3 840.9,355.7 810.5,366.5 810.5,699.3" fill="none" stroke="#333" stroke-width="0.9" /><polygon points="713.7,597.59 737.2,625.59 739.8,623.41 716.3,595.41" fill="#dadada" stroke="#262626" stroke-width="1.1" /><!--W:714.47,597.66 737.27,624.82 739.03,623.34 716.23,596.18--><polygon points="736.9,623.2 744.7,615.3 752.5,622.5 762.3,622.5 762.3,634.9 746.6,634.9" fill="#dadada" stroke="#262626" stroke-width="1.2" /><rect x="762.3" y="629.7" width="48.2" height="5.2" fill="#eee" stroke="#222" stroke-width="1.1" /><line x1="762.3" y1="632.3" x2="810.5" y2="632.3" stroke="#222" stroke-width="1"/><polygon points="718,53.2 810.5,53.2 810.5,58.4 718,58.4" fill="#dadada" stroke="#262626" stroke-width="1.15" /><!--W:718.55,53.75 809.95,53.75 809.95,57.85 718.55,57.85--><rect x="727.1" y="53.2" width="49.5" height="5.2" fill="#e8e8e8" stroke="#222" stroke-width="1" /><line x1="727.1" y1="55.8" x2="776.6" y2="55.8" stroke="#222" stroke-width="1"/><rect x="713.4" y="69.2" width="4.6" height="27.6" fill="#dadada" stroke="none" stroke-width="0" /><polygon points="712.8,96.8 718,96.8 718,200.7 712.8,200.7" fill="#dadada" stroke="#262626" stroke-width="1.15" /><!--W:713.35,97.35 717.45,97.35 717.45,200.15 713.35,200.15--><line x1="718" y1="58.4" x2="718" y2="200.7" stroke="#333" stroke-width="0.9"/><polygon points="706.9,53.2 718,53.2 718,69.2 706.9,69.2" fill="#dadada" stroke="#262626" stroke-width="1.3" /><polygon points="707.6,169.2 718,169.2 718,184.5 707.6,184.5" fill="#dadada" stroke="#262626" stroke-width="1.3" /><polygon points="712.8,200.7 718,200.7 718,203 696,225 692.6,221.4 712.8,201" fill="#dadada" stroke="#262626" stroke-width="1.15" /><!--W:713.35,201.25 717.45,201.25 717.45,202.77 696.01,224.21 693.37,221.41 713.35,201.23--><line x1="718" y1="108.5" x2="768.1" y2="108.5" stroke="#333" stroke-width="0.95"/><line x1="718" y1="119.2" x2="768.1" y2="119.2" stroke="#333" stroke-width="0.95"/><line x1="718" y1="129.1" x2="768.1" y2="129.1" stroke="#333" stroke-width="0.95"/><line x1="718" y1="139.1" x2="768.1" y2="139.1" stroke="#333" stroke-width="0.95"/><line x1="718" y1="148.9" x2="768.1" y2="148.9" stroke="#333" stroke-width="0.95"/><line x1="718" y1="158.8" x2="768.1" y2="158.8" stroke="#333" stroke-width="0.95"/><line x1="718" y1="169.2" x2="768.1" y2="169.2" stroke="#333" stroke-width="0.95"/><line x1="718" y1="179.5" x2="768.1" y2="179.5" stroke="#333" stroke-width="0.95"/><line x1="785.7" y1="58.4" x2="785.7" y2="108.5" stroke="#333" stroke-width="0.95"/><line x1="796.1" y1="58.4" x2="796.1" y2="108.5" stroke="#333" stroke-width="0.95"/><line x1="805.9" y1="58.4" x2="805.9" y2="108.5" stroke="#333" stroke-width="0.95"/><polygon points="767.9,108.8 810.5,108.8 810.5,116 775.3,116 775.3,176.6 791.3,176.6 791.3,184.5 767.9,184.5" fill="#dadada" stroke="#262626" stroke-width="1.2" /><polygon points="775.3,116 810.5,116 810.5,120.3 779.8,120.3 779.8,173.4 810.5,173.4 810.5,176.6 775.3,176.6" fill="#7d7d7d" stroke="#333" stroke-width="0.8" /><line x1="779.8" y1="120.3" x2="810.5" y2="151" stroke="#444" stroke-width="0.7"/><line x1="779.8" y1="173.4" x2="810.5" y2="142.7" stroke="#444" stroke-width="0.7"/><line x1="791.3" y1="178.4" x2="810.5" y2="178.4" stroke="#444" stroke-width="0.7"/><line x1="791.3" y1="180" x2="810.5" y2="180" stroke="#444" stroke-width="0.7"/><text x="1155.8" y="556.5" font-family="Liberation Sans" font-size="10.1" text-anchor="start" fill="#474747" textLength="50.8" lengthAdjust="spacingAndGlyphs" >Bed Room</text><text x="1155.8" y="565.9" font-family="Liberation Sans" font-size="6.7" text-anchor="start" fill="#1e1e1e" textLength="48.8" lengthAdjust="spacingAndGlyphs" font-weight="bold" >13'-0" x 11'-0"</text><text x="1296" y="491" font-family="Liberation Sans" font-size="10.1" text-anchor="start" fill="#474747" textLength="31.9" lengthAdjust="spacingAndGlyphs" >Kitchen</text><text x="1291.5" y="498.4" font-family="Liberation Sans" font-size="6.7" text-anchor="start" fill="#1e1e1e" textLength="38.4" lengthAdjust="spacingAndGlyphs" font-weight="bold" >6'-10" x 5'-4"</text><text x="1166.9" y="602.7" font-family="Liberation Sans" font-size="10.1" text-anchor="start" fill="#474747" textLength="18.2" lengthAdjust="spacingAndGlyphs" >Bath</text><text x="1161.7" y="610.1" font-family="Liberation Sans" font-size="6.7" text-anchor="start" fill="#1e1e1e" textLength="35.1" lengthAdjust="spacingAndGlyphs" font-weight="bold" >8'-3" x 7'-0"</text><text x="1269.1" y="608.4" font-family="Liberation Sans" font-size="10.1" text-anchor="start" fill="#474747" textLength="35.8" lengthAdjust="spacingAndGlyphs" >Lounge</text><text x="1263.9" y="617.9" font-family="Liberation Sans" font-size="6.7" text-anchor="start" fill="#1e1e1e" textLength="52.1" lengthAdjust="spacingAndGlyphs" font-weight="bold" >11'-0" x 13'-10"</text><text x="1373.6" y="610.1" font-family="Liberation Sans" font-size="10.1" text-anchor="start" fill="#474747" textLength="18.3" lengthAdjust="spacingAndGlyphs" >Bath</text><text x="1368.1" y="618.2" font-family="Liberation Sans" font-size="6.7" text-anchor="start" fill="#1e1e1e" textLength="35.9" lengthAdjust="spacingAndGlyphs" font-weight="bold" >6'-0" x 11'-4"</text><text x="1422.3" y="600.1" font-family="Liberation Sans" font-size="10.1" text-anchor="start" fill="#474747" textLength="18.8" lengthAdjust="spacingAndGlyphs" >Duct</text><text x="1365.7" y="695.9" font-family="Liberation Sans" font-size="10.1" text-anchor="start" fill="#474747" textLength="50.8" lengthAdjust="spacingAndGlyphs" >Bed Room</text><text x="1365.7" y="705" font-family="Liberation Sans" font-size="6.7" text-anchor="start" fill="#1e1e1e" textLength="48.8" lengthAdjust="spacingAndGlyphs" font-weight="bold" >17'-6" x 12'-0"</text><text x="1370.9" y="804.3" font-family="Liberation Sans" font-size="10.5" text-anchor="start" fill="#474747" textLength="37.8" lengthAdjust="spacingAndGlyphs" >Balcony</text><text x="1370.9" y="814.3" font-family="Liberation Sans" font-size="6.7" text-anchor="start" fill="#1e1e1e" textLength="35.8" lengthAdjust="spacingAndGlyphs" font-weight="bold" >3'-6" Wide</text><text x="1199.2" y="690.1" font-family="Liberation Sans" font-size="10.5" text-anchor="start" fill="#474747" textLength="38.4" lengthAdjust="spacingAndGlyphs" transform="rotate(45 1199.2 690.1)" >Balcony</text><text x="1192.1" y="696.3" font-family="Liberation Sans" font-size="6.7" text-anchor="start" fill="#1e1e1e" textLength="36.5" lengthAdjust="spacingAndGlyphs" font-weight="bold" transform="rotate(45 1192.1 696.3)" >3'-6" Wide</text><text x="1252" y="96.6" font-family="Liberation Sans" font-size="10.1" text-anchor="start" fill="#474747" textLength="18.8" lengthAdjust="spacingAndGlyphs" >Bath</text><text x="1247" y="104.3" font-family="Liberation Sans" font-size="6.7" text-anchor="start" fill="#1e1e1e" textLength="34.3" lengthAdjust="spacingAndGlyphs" font-weight="bold" >6'-0" x 5'-0"</text><text x="1265.2" y="57" font-family="Liberation Sans" font-size="10.1" text-anchor="start" fill="#474747" textLength="19.4" lengthAdjust="spacingAndGlyphs" >Duct</text><text x="1158" y="162" font-family="Liberation Sans" font-size="10.1" text-anchor="start" fill="#474747" textLength="31" lengthAdjust="spacingAndGlyphs" >Kitchen</text><text x="1153" y="170.6" font-family="Liberation Sans" font-size="6.7" text-anchor="start" fill="#1e1e1e" textLength="36.5" lengthAdjust="spacingAndGlyphs" font-weight="bold" >10'-0" x 6'-6"</text><text x="1380.5" y="123.5" font-family="Liberation Sans" font-size="10.1" text-anchor="start" fill="#474747" textLength="49.9" lengthAdjust="spacingAndGlyphs" >Bed Room</text><text x="1380.2" y="133.8" font-family="Liberation Sans" font-size="6.7" text-anchor="start" fill="#1e1e1e" textLength="48.5" lengthAdjust="spacingAndGlyphs" font-weight="bold" >15'-8" x 15'-6"</text><text x="1261" y="178.9" font-family="Liberation Sans" font-size="10.1" text-anchor="start" fill="#474747" textLength="34.5" lengthAdjust="spacingAndGlyphs" >Lounge</text><text x="1255.2" y="188.4" font-family="Liberation Sans" font-size="6.7" text-anchor="start" fill="#1e1e1e" textLength="47.5" lengthAdjust="spacingAndGlyphs" font-weight="bold" >11'-0" x 14'-0"</text><text x="1174.1" y="239.6" font-family="Liberation Sans" font-size="10.1" text-anchor="start" fill="#474747" textLength="50.2" lengthAdjust="spacingAndGlyphs" >Bed Room</text><text x="1174.1" y="248.6" font-family="Liberation Sans" font-size="6.7" text-anchor="start" fill="#1e1e1e" textLength="47.9" lengthAdjust="spacingAndGlyphs" font-weight="bold" >11'-0" x 13'-4"</text><text x="1270.8" y="293" font-family="Liberation Sans" font-size="10.1" text-anchor="start" fill="#474747" textLength="18.2" lengthAdjust="spacingAndGlyphs" >Bath</text><text x="1265.6" y="300.5" font-family="Liberation Sans" font-size="6.7" text-anchor="start" fill="#1e1e1e" textLength="33.9" lengthAdjust="spacingAndGlyphs" font-weight="bold" >7'-6" x 8'-6"</text><text x="1164" y="349.6" font-family="Liberation Sans" font-size="10.5" text-anchor="start" fill="#474747" textLength="38.5" lengthAdjust="spacingAndGlyphs" >Balcony</text><text x="1164" y="359.6" font-family="Liberation Sans" font-size="6.7" text-anchor="start" fill="#1e1e1e" textLength="36.5" lengthAdjust="spacingAndGlyphs" font-weight="bold" >3'-6" Wide</text><text x="1361" y="267.2" font-family="Liberation Sans" font-size="10.5" text-anchor="start" fill="#474747" textLength="38.4" lengthAdjust="spacingAndGlyphs" transform="rotate(-45 1361 267.2)" >Balcony</text><text x="1366.8" y="273.7" font-family="Liberation Sans" font-size="6.7" text-anchor="start" fill="#1e1e1e" textLength="36.5" lengthAdjust="spacingAndGlyphs" font-weight="bold" transform="rotate(-45 1366.8 273.7)" >3'-6" Wide</text><text x="125" y="514.5" font-family="Liberation Sans" font-size="10.1" text-anchor="start" fill="#474747" textLength="50.8" lengthAdjust="spacingAndGlyphs" >Bed Room</text><text x="125" y="523.9" font-family="Liberation Sans" font-size="6.7" text-anchor="start" fill="#1e1e1e" textLength="48.8" lengthAdjust="spacingAndGlyphs" font-weight="bold" >13'-0" x 11'-0"</text><text x="265.2" y="449" font-family="Liberation Sans" font-size="10.1" text-anchor="start" fill="#474747" textLength="31.9" lengthAdjust="spacingAndGlyphs" >Kitchen</text><text x="260.7" y="456.4" font-family="Liberation Sans" font-size="6.7" text-anchor="start" fill="#1e1e1e" textLength="38.4" lengthAdjust="spacingAndGlyphs" font-weight="bold" >6'-10" x 9'-4"</text><text x="136.1" y="560.7" font-family="Liberation Sans" font-size="10.1" text-anchor="start" fill="#474747" textLength="18.2" lengthAdjust="spacingAndGlyphs" >Bath</text><text x="130.9" y="568.1" font-family="Liberation Sans" font-size="6.7" text-anchor="start" fill="#1e1e1e" textLength="35.1" lengthAdjust="spacingAndGlyphs" font-weight="bold" >8'-3" x 7'-0"</text><text x="238.3" y="566.4" font-family="Liberation Sans" font-size="10.1" text-anchor="start" fill="#474747" textLength="35.8" lengthAdjust="spacingAndGlyphs" >Lounge</text><text x="233.1" y="575.9" font-family="Liberation Sans" font-size="6.7" text-anchor="start" fill="#1e1e1e" textLength="52.1" lengthAdjust="spacingAndGlyphs" font-weight="bold" >11'-0" x 13'-10"</text><text x="342.8" y="568.1" font-family="Liberation Sans" font-size="10.1" text-anchor="start" fill="#474747" textLength="18.3" lengthAdjust="spacingAndGlyphs" >Bath</text><text x="337.3" y="576.2" font-family="Liberation Sans" font-size="6.7" text-anchor="start" fill="#1e1e1e" textLength="35.9" lengthAdjust="spacingAndGlyphs" font-weight="bold" >6'-0" x 11'-4"</text><text x="391.5" y="558.1" font-family="Liberation Sans" font-size="10.1" text-anchor="start" fill="#474747" textLength="18.8" lengthAdjust="spacingAndGlyphs" >Duct</text><text x="334.9" y="653.9" font-family="Liberation Sans" font-size="10.1" text-anchor="start" fill="#474747" textLength="50.8" lengthAdjust="spacingAndGlyphs" >Bed Room</text><text x="334.9" y="663" font-family="Liberation Sans" font-size="6.7" text-anchor="start" fill="#1e1e1e" textLength="48.8" lengthAdjust="spacingAndGlyphs" font-weight="bold" >17'-6" x 12'-0"</text><text x="340.1" y="762.3" font-family="Liberation Sans" font-size="10.5" text-anchor="start" fill="#474747" textLength="37.8" lengthAdjust="spacingAndGlyphs" >Balcony</text><text x="340.1" y="772.3" font-family="Liberation Sans" font-size="6.7" text-anchor="start" fill="#1e1e1e" textLength="35.8" lengthAdjust="spacingAndGlyphs" font-weight="bold" >3'-6" Wide</text><text x="168.4" y="648.1" font-family="Liberation Sans" font-size="10.5" text-anchor="start" fill="#474747" textLength="38.4" lengthAdjust="spacingAndGlyphs" transform="rotate(45 168.4 648.1)" >Balcony</text><text x="161.3" y="654.3" font-family="Liberation Sans" font-size="6.7" text-anchor="start" fill="#1e1e1e" textLength="36.5" lengthAdjust="spacingAndGlyphs" font-weight="bold" transform="rotate(45 161.3 654.3)" >3'-6" Wide</text><text x="543.2" y="509.2" font-family="Liberation Sans" font-size="10.1" text-anchor="start" fill="#474747" textLength="18.8" lengthAdjust="spacingAndGlyphs" >Bath</text><text x="538.2" y="516.9" font-family="Liberation Sans" font-size="6.7" text-anchor="start" fill="#1e1e1e" textLength="34.3" lengthAdjust="spacingAndGlyphs" font-weight="bold" >6'-0" x 5'-0"</text><text x="556.4" y="469.6" font-family="Liberation Sans" font-size="10.1" text-anchor="start" fill="#474747" textLength="19.4" lengthAdjust="spacingAndGlyphs" >Duct</text><text x="449.2" y="574.6" font-family="Liberation Sans" font-size="10.1" text-anchor="start" fill="#474747" textLength="31" lengthAdjust="spacingAndGlyphs" >Kitchen</text><text x="444.2" y="583.2" font-family="Liberation Sans" font-size="6.7" text-anchor="start" fill="#1e1e1e" textLength="36.5" lengthAdjust="spacingAndGlyphs" font-weight="bold" >10'-0" x 6'-6"</text><text x="671.7" y="536.1" font-family="Liberation Sans" font-size="10.1" text-anchor="start" fill="#474747" textLength="49.9" lengthAdjust="spacingAndGlyphs" >Bed Room</text><text x="671.4" y="546.4" font-family="Liberation Sans" font-size="6.7" text-anchor="start" fill="#1e1e1e" textLength="48.5" lengthAdjust="spacingAndGlyphs" font-weight="bold" >15'-8" x 15'-6"</text><text x="552.2" y="591.5" font-family="Liberation Sans" font-size="10.1" text-anchor="start" fill="#474747" textLength="34.5" lengthAdjust="spacingAndGlyphs" >Lounge</text><text x="546.4" y="601" font-family="Liberation Sans" font-size="6.7" text-anchor="start" fill="#1e1e1e" textLength="47.5" lengthAdjust="spacingAndGlyphs" font-weight="bold" >11'-0" x 14'-0"</text><text x="465.3" y="652.2" font-family="Liberation Sans" font-size="10.1" text-anchor="start" fill="#474747" textLength="50.2" lengthAdjust="spacingAndGlyphs" >Bed Room</text><text x="465.3" y="661.2" font-family="Liberation Sans" font-size="6.7" text-anchor="start" fill="#1e1e1e" textLength="47.9" lengthAdjust="spacingAndGlyphs" font-weight="bold" >11'-0" x 13'-4"</text><text x="562" y="705.6" font-family="Liberation Sans" font-size="10.1" text-anchor="start" fill="#474747" textLength="18.2" lengthAdjust="spacingAndGlyphs" >Bath</text><text x="556.8" y="713.1" font-family="Liberation Sans" font-size="6.7" text-anchor="start" fill="#1e1e1e" textLength="33.9" lengthAdjust="spacingAndGlyphs" font-weight="bold" >7'-6" x 8'-6"</text><text x="455.2" y="762.2" font-family="Liberation Sans" font-size="10.5" text-anchor="start" fill="#474747" textLength="38.5" lengthAdjust="spacingAndGlyphs" >Balcony</text><text x="455.2" y="772.2" font-family="Liberation Sans" font-size="6.7" text-anchor="start" fill="#1e1e1e" textLength="36.5" lengthAdjust="spacingAndGlyphs" font-weight="bold" >3'-6" Wide</text><text x="652.2" y="679.8" font-family="Liberation Sans" font-size="10.5" text-anchor="start" fill="#474747" textLength="38.4" lengthAdjust="spacingAndGlyphs" transform="rotate(-45 652.2 679.8)" >Balcony</text><text x="658" y="686.3" font-family="Liberation Sans" font-size="6.7" text-anchor="start" fill="#1e1e1e" textLength="36.5" lengthAdjust="spacingAndGlyphs" font-weight="bold" transform="rotate(-45 658 686.3)" >3'-6" Wide</text><text x="413" y="421.6" font-family="Liberation Sans" font-size="10.1" text-anchor="start" fill="#474747" textLength="19" lengthAdjust="spacingAndGlyphs" >Void</text><text x="403.4" y="429.3" font-family="Liberation Sans" font-size="6.3" text-anchor="start" fill="#1e1e1e" textLength="40.9" lengthAdjust="spacingAndGlyphs" font-weight="bold" >11'-0" x 11'-0"</text><text x="413" y="335.5" font-family="Liberation Sans" font-size="10.1" text-anchor="start" fill="#474747" textLength="35.7" lengthAdjust="spacingAndGlyphs" >Corridor</text><text x="419.7" y="341.6" font-family="Liberation Sans" font-size="6.3" text-anchor="start" fill="#1e1e1e" textLength="21.5" lengthAdjust="spacingAndGlyphs" font-weight="bold" >6' wide</text><text x="413" y="506.7" font-family="Liberation Sans" font-size="10.1" text-anchor="start" fill="#474747" textLength="35.7" lengthAdjust="spacingAndGlyphs" >Corridor</text><text x="419.7" y="512.8" font-family="Liberation Sans" font-size="6.3" text-anchor="start" fill="#1e1e1e" textLength="21.5" lengthAdjust="spacingAndGlyphs" font-weight="bold" >6' wide</text><text x="260.5" y="425.2" font-family="Liberation Sans" font-size="10.1" text-anchor="start" fill="#474747" textLength="19" lengthAdjust="spacingAndGlyphs" >Duct</text><text x="798.7" y="150.2" font-family="Liberation Sans" font-size="10.1" text-anchor="start" fill="#474747" textLength="13.8" lengthAdjust="spacingAndGlyphs" >Lift</text><text x="787.7" y="157.4" font-family="Liberation Sans" font-size="6.4" text-anchor="start" fill="#1e1e1e" textLength="33.8" lengthAdjust="spacingAndGlyphs" font-weight="bold" >6'-8" x 6'-0"</text><text x="591.7" y="425.6" font-family="Liberation Sans" font-size="9.2" fill="#333" textLength="114.6" lengthAdjust="spacing">Passage 6'-6&quot; Wide</text><text x="339.9" y="76.2" font-family="Liberation Sans" font-size="10.5" text-anchor="start" fill="#474747" textLength="38" lengthAdjust="spacingAndGlyphs" >Balcony</text><text x="339.9" y="84.4" font-family="Liberation Sans" font-size="6.7" text-anchor="start" fill="#1e1e1e" textLength="36.3" lengthAdjust="spacingAndGlyphs" font-weight="bold" >3'-6" Wide</text><text x="335.6" y="190.3" font-family="Liberation Sans" font-size="10.1" text-anchor="start" fill="#474747" textLength="49.8" lengthAdjust="spacingAndGlyphs" >Bed Room</text><text x="335.6" y="198.7" font-family="Liberation Sans" font-size="6.7" text-anchor="start" fill="#1e1e1e" textLength="47.7" lengthAdjust="spacingAndGlyphs" font-weight="bold" >17'-6" x 12'-0"</text><text x="238.9" y="269.6" font-family="Liberation Sans" font-size="10.1" text-anchor="start" fill="#474747" textLength="34.8" lengthAdjust="spacingAndGlyphs" >Lounge</text><text x="233.5" y="276.9" font-family="Liberation Sans" font-size="6.7" text-anchor="start" fill="#1e1e1e" textLength="52.4" lengthAdjust="spacingAndGlyphs" font-weight="bold" >11'-0" x 13'-10"</text><text x="343.1" y="263.8" font-family="Liberation Sans" font-size="10.1" text-anchor="start" fill="#474747" textLength="18.7" lengthAdjust="spacingAndGlyphs" >Bath</text><text x="337.5" y="270.6" font-family="Liberation Sans" font-size="6.7" text-anchor="start" fill="#1e1e1e" textLength="37.8" lengthAdjust="spacingAndGlyphs" font-weight="bold" >6'-0" x 11'-4"</text><text x="136.6" y="283.7" font-family="Liberation Sans" font-size="10.1" text-anchor="start" fill="#474747" textLength="18.5" lengthAdjust="spacingAndGlyphs" >Bath</text><text x="130.8" y="290.8" font-family="Liberation Sans" font-size="6.7" text-anchor="start" fill="#1e1e1e" textLength="34.8" lengthAdjust="spacingAndGlyphs" font-weight="bold" >8'-3" x 7'-0"</text><text x="125.4" y="326.3" font-family="Liberation Sans" font-size="10.1" text-anchor="start" fill="#474747" textLength="50.5" lengthAdjust="spacingAndGlyphs" >Bed Room</text><text x="125.4" y="333.1" font-family="Liberation Sans" font-size="6.7" text-anchor="start" fill="#1e1e1e" textLength="48.4" lengthAdjust="spacingAndGlyphs" font-weight="bold" >13'-0" x 11'-0"</text><text x="264" y="391.6" font-family="Liberation Sans" font-size="10.1" text-anchor="start" fill="#474747" textLength="31.8" lengthAdjust="spacingAndGlyphs" >Kitchen</text><text x="260.4" y="398.2" font-family="Liberation Sans" font-size="6.7" text-anchor="start" fill="#1e1e1e" textLength="38.4" lengthAdjust="spacingAndGlyphs" font-weight="bold" >6'-10" x 9'-4"</text><text x="391.4" y="290.8" font-family="Liberation Sans" font-size="10.1" text-anchor="start" fill="#474747" textLength="18.7" lengthAdjust="spacingAndGlyphs" >Duct</text><text x="164.1" y="190.7" font-family="Liberation Sans" font-size="10.5" text-anchor="start" fill="#474747" textLength="38.4" lengthAdjust="spacingAndGlyphs" transform="rotate(-45 164.1 190.7)" >Balcony</text><text x="169.9" y="198.2" font-family="Liberation Sans" font-size="6.7" text-anchor="start" fill="#1e1e1e" textLength="36.5" lengthAdjust="spacingAndGlyphs" font-weight="bold" transform="rotate(-45 169.9 198.2)" >3'-6" Wide</text><text x="454.7" y="76.2" font-family="Liberation Sans" font-size="10.5" text-anchor="start" fill="#474747" textLength="38.7" lengthAdjust="spacingAndGlyphs" >Balcony</text><text x="454.7" y="84.4" font-family="Liberation Sans" font-size="6.7" text-anchor="start" fill="#1e1e1e" textLength="36.9" lengthAdjust="spacingAndGlyphs" font-weight="bold" >3'-6" Wide</text><text x="561.5" y="134.2" font-family="Liberation Sans" font-size="10.1" text-anchor="start" fill="#474747" textLength="18.9" lengthAdjust="spacingAndGlyphs" >Bath</text><text x="556.1" y="140.2" font-family="Liberation Sans" font-size="6.7" text-anchor="start" fill="#1e1e1e" textLength="33.3" lengthAdjust="spacingAndGlyphs" font-weight="bold" >7'-6" x 8'-6"</text><text x="465.4" y="189.7" font-family="Liberation Sans" font-size="10.1" text-anchor="start" fill="#474747" textLength="50.3" lengthAdjust="spacingAndGlyphs" >Bed Room</text><text x="465.4" y="197.8" font-family="Liberation Sans" font-size="6.7" text-anchor="start" fill="#1e1e1e" textLength="48.2" lengthAdjust="spacingAndGlyphs" font-weight="bold" >11'-0" x 13'-4"</text><text x="551.8" y="241.6" font-family="Liberation Sans" font-size="10.1" text-anchor="start" fill="#474747" textLength="35.4" lengthAdjust="spacingAndGlyphs" >Lounge</text><text x="546" y="249.8" font-family="Liberation Sans" font-size="6.7" text-anchor="start" fill="#1e1e1e" textLength="49.2" lengthAdjust="spacingAndGlyphs" font-weight="bold" >11'-0" x 14'-0"</text><text x="447.6" y="265.9" font-family="Liberation Sans" font-size="10.1" text-anchor="start" fill="#474747" textLength="31.2" lengthAdjust="spacingAndGlyphs" >Kitchen</text><text x="447" y="272.4" font-family="Liberation Sans" font-size="6.7" text-anchor="start" fill="#1e1e1e" textLength="37.1" lengthAdjust="spacingAndGlyphs" font-weight="bold" >10'-0" x 6'-6"</text><text x="668.9" y="306.3" font-family="Liberation Sans" font-size="10.1" text-anchor="start" fill="#474747" textLength="50.5" lengthAdjust="spacingAndGlyphs" >Bed Room</text><text x="671" y="314.2" font-family="Liberation Sans" font-size="6.7" text-anchor="start" fill="#1e1e1e" textLength="48.8" lengthAdjust="spacingAndGlyphs" font-weight="bold" >15'-8" x 15'-6"</text><text x="543.2" y="328.8" font-family="Liberation Sans" font-size="10.1" text-anchor="start" fill="#474747" textLength="18.3" lengthAdjust="spacingAndGlyphs" >Bath</text><text x="537.8" y="335.3" font-family="Liberation Sans" font-size="6.7" text-anchor="start" fill="#1e1e1e" textLength="33.3" lengthAdjust="spacingAndGlyphs" font-weight="bold" >6'-0" x 5'-0"</text><text x="556.1" y="379.3" font-family="Liberation Sans" font-size="10.1" text-anchor="start" fill="#474747" textLength="18.9" lengthAdjust="spacingAndGlyphs" >Duct</text><text x="652.3" y="156.8" font-family="Liberation Sans" font-size="10.5" text-anchor="start" fill="#474747" textLength="38.4" lengthAdjust="spacingAndGlyphs" transform="rotate(45 652.3 156.8)" >Balcony</text><text x="649.1" y="162.4" font-family="Liberation Sans" font-size="6.7" text-anchor="start" fill="#1e1e1e" textLength="36.5" lengthAdjust="spacingAndGlyphs" font-weight="bold" transform="rotate(45 649.1 162.4)" >3'-6" Wide</text>
</svg>
</body></html>
